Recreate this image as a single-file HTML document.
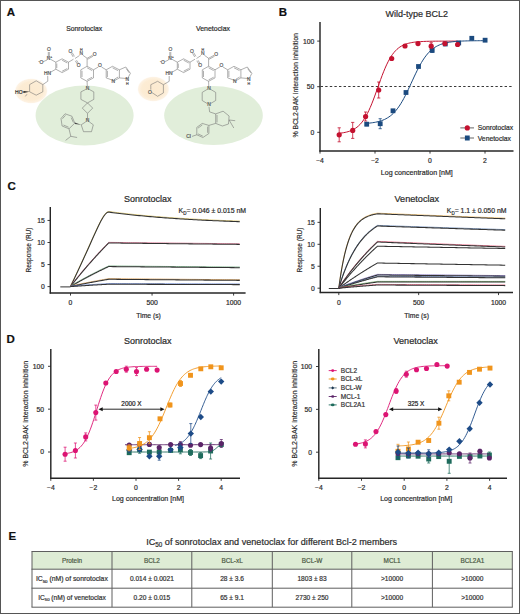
<!DOCTYPE html><html><head><meta charset="utf-8"><style>html,body{margin:0;padding:0;background:#fff;}svg{display:block;}</style></head><body>
<svg width="520" height="614" viewBox="0 0 520 614" font-family='"Liberation Sans", sans-serif'>
<rect x="0" y="0" width="520" height="614" fill="#fff"/>
<text x="6.8" y="15.8" font-size="11.5" text-anchor="start" fill="#111" font-weight="bold"  stroke="#111" stroke-width="0.2">A</text>
<text x="278.8" y="15.8" font-size="11.5" text-anchor="start" fill="#111" font-weight="bold"  stroke="#111" stroke-width="0.2">B</text>
<text x="7.5" y="189.8" font-size="11.5" text-anchor="start" fill="#111" font-weight="bold"  stroke="#111" stroke-width="0.2">C</text>
<text x="6.5" y="343" font-size="11.5" text-anchor="start" fill="#111" font-weight="bold"  stroke="#111" stroke-width="0.2">D</text>
<text x="8.5" y="539.8" font-size="11.5" text-anchor="start" fill="#111" font-weight="bold"  stroke="#111" stroke-width="0.2">E</text>
<defs><radialGradient id="og"><stop offset="0" stop-color="#fcead0"/><stop offset="0.7" stop-color="#fcecd4"/><stop offset="0.9" stop-color="#fdf2e3"/><stop offset="1" stop-color="#ffffff" stop-opacity="0"/></radialGradient><filter id="bl" x="-10%" y="-10%" width="120%" height="120%"><feGaussianBlur stdDeviation="0.7"/></filter></defs>
<ellipse cx="84.6" cy="115.5" rx="49" ry="30" fill="#e1eeda" filter="url(#bl)"/>
<ellipse cx="213.5" cy="115.5" rx="49.3" ry="29.4" fill="#e1eeda" filter="url(#bl)"/>
<ellipse cx="31.2" cy="91" rx="17" ry="13" fill="url(#og)"/>
<ellipse cx="153.4" cy="89" rx="16.5" ry="13" fill="url(#og)"/>
<text x="66.2" y="31" font-size="7" text-anchor="start" fill="#2c2c2c" font-weight="normal" textLength="36" lengthAdjust="spacingAndGlyphs"  stroke="#2c2c2c" stroke-width="0.2">Sonrotoclax</text>
<text x="196" y="31" font-size="7" text-anchor="start" fill="#2c2c2c" font-weight="normal" textLength="34" lengthAdjust="spacingAndGlyphs"  stroke="#2c2c2c" stroke-width="0.2">Venetoclax</text>
<polyline points="55.80,62.20 62.10,58.80 68.50,62.20 68.50,69.20 62.10,72.60 55.80,69.20 55.80,62.20" stroke="#6e6e6e" stroke-width="0.55" fill="none" stroke-linejoin="round" />
<line x1="56.80" y1="63.50" x2="56.80" y2="68.00" stroke="#6e6e6e" stroke-width="0.55" />
<line x1="62.10" y1="60.20" x2="67.30" y2="63.00" stroke="#6e6e6e" stroke-width="0.55" />
<line x1="62.10" y1="71.20" x2="67.30" y2="68.50" stroke="#6e6e6e" stroke-width="0.55" />
<line x1="55.80" y1="62.20" x2="50.50" y2="59.30" stroke="#6e6e6e" stroke-width="0.55" />
<line x1="48.30" y1="57.30" x2="48.30" y2="52.00" stroke="#6e6e6e" stroke-width="0.55" />
<line x1="49.30" y1="57.30" x2="49.30" y2="52.00" stroke="#6e6e6e" stroke-width="0.55" />
<line x1="47.00" y1="60.00" x2="43.00" y2="61.80" stroke="#6e6e6e" stroke-width="0.55" />
<line x1="55.80" y1="69.20" x2="50.30" y2="72.40" stroke="#6e6e6e" stroke-width="0.55" />
<line x1="68.50" y1="62.20" x2="73.50" y2="59.20" stroke="#6e6e6e" stroke-width="0.55" />
<line x1="75.00" y1="58.50" x2="79.50" y2="55.50" stroke="#6e6e6e" stroke-width="0.55" />
<line x1="73.20" y1="57.00" x2="71.00" y2="53.20" stroke="#6e6e6e" stroke-width="0.55" />
<line x1="74.40" y1="56.40" x2="72.20" y2="52.60" stroke="#6e6e6e" stroke-width="0.55" />
<line x1="75.30" y1="60.80" x2="77.40" y2="64.20" stroke="#6e6e6e" stroke-width="0.55" />
<line x1="76.50" y1="60.20" x2="78.60" y2="63.60" stroke="#6e6e6e" stroke-width="0.55" />
<line x1="82.80" y1="55.20" x2="87.10" y2="58.30" stroke="#6e6e6e" stroke-width="0.55" />
<line x1="87.10" y1="58.30" x2="92.60" y2="55.20" stroke="#6e6e6e" stroke-width="0.55" />
<line x1="87.60" y1="59.30" x2="93.10" y2="56.20" stroke="#6e6e6e" stroke-width="0.55" />
<line x1="87.10" y1="58.30" x2="87.10" y2="66.30" stroke="#6e6e6e" stroke-width="0.55" />
<polyline points="87.10,66.30 93.50,69.80 93.50,77.90 87.10,81.30 80.80,77.90 80.80,69.80 87.10,66.30" stroke="#6e6e6e" stroke-width="0.55" fill="none" stroke-linejoin="round" />
<line x1="82.00" y1="70.80" x2="82.00" y2="77.00" stroke="#6e6e6e" stroke-width="0.55" />
<line x1="87.10" y1="67.80" x2="92.20" y2="70.60" stroke="#6e6e6e" stroke-width="0.55" />
<line x1="87.10" y1="79.90" x2="92.20" y2="77.20" stroke="#6e6e6e" stroke-width="0.55" />
<line x1="93.50" y1="69.80" x2="98.30" y2="67.00" stroke="#6e6e6e" stroke-width="0.55" />
<line x1="101.50" y1="67.00" x2="106.20" y2="69.80" stroke="#6e6e6e" stroke-width="0.55" />
<polyline points="106.20,69.80 112.50,66.30 119.40,69.80 119.40,77.90 114.20,80.80 106.20,77.90 106.20,69.80" stroke="#6e6e6e" stroke-width="0.55" fill="none" stroke-linejoin="round" />
<line x1="107.40" y1="70.80" x2="107.40" y2="77.00" stroke="#6e6e6e" stroke-width="0.55" />
<line x1="112.50" y1="67.80" x2="118.00" y2="70.60" stroke="#6e6e6e" stroke-width="0.55" />
<line x1="118.20" y1="77.00" x2="114.50" y2="79.20" stroke="#6e6e6e" stroke-width="0.55" />
<polyline points="119.40,69.80 125.80,67.00 130.40,73.30 127.60,78.60 119.40,77.90" stroke="#6e6e6e" stroke-width="0.55" fill="none" stroke-linejoin="round" />
<line x1="126.20" y1="68.60" x2="129.20" y2="72.80" stroke="#6e6e6e" stroke-width="0.55" />
<line x1="87.10" y1="81.30" x2="87.30" y2="86.80" stroke="#6e6e6e" stroke-width="0.55" />
<text x="48.8" y="51.2" font-size="4.9" fill="#555" text-anchor="middle" stroke="#555" stroke-width="0.2">O</text>
<text x="48.6" y="60.3" font-size="4.9" fill="#555" text-anchor="middle" stroke="#555" stroke-width="0.2">N</text>
<text x="50.6" y="57.6" font-size="2.8" fill="#555" stroke="#555" stroke-width="0.2">+</text>
<text x="41.4" y="63.8" font-size="4.9" fill="#555" text-anchor="middle" stroke="#555" stroke-width="0.2">O</text>
<text x="38.6" y="62.0" font-size="3.2" fill="#555" stroke="#555" stroke-width="0.2">-</text>
<text x="47.5" y="75.3" font-size="4.9" fill="#555" text-anchor="middle" stroke="#555" stroke-width="0.2">HN</text>
<text x="70.3" y="52.6" font-size="4.9" fill="#555" text-anchor="middle" stroke="#555" stroke-width="0.2">O</text>
<text x="78.6" y="67.2" font-size="4.9" fill="#555" text-anchor="middle" stroke="#555" stroke-width="0.2">O</text>
<text x="81.3" y="55.2" font-size="4.9" fill="#555" text-anchor="middle" stroke="#555" stroke-width="0.2">N</text>
<text x="81.3" y="50.6" font-size="3.6" fill="#555" text-anchor="middle" stroke="#555" stroke-width="0.2">H</text>
<text x="94.6" y="55.8" font-size="4.9" fill="#555" text-anchor="middle" stroke="#555" stroke-width="0.2">O</text>
<text x="99.9" y="67.4" font-size="4.9" fill="#555" text-anchor="middle" stroke="#555" stroke-width="0.2">O</text>
<text x="113.3" y="82.8" font-size="4.9" fill="#555" text-anchor="middle" stroke="#555" stroke-width="0.2">N</text>
<text x="127.2" y="81.0" font-size="4.9" fill="#555" text-anchor="middle" stroke="#555" stroke-width="0.2">N</text>
<text x="127.2" y="85.0" font-size="3.6" fill="#555" text-anchor="middle" stroke="#555" stroke-width="0.2">H</text>
<text x="87.4" y="89.9" font-size="4.9" fill="#555" text-anchor="middle" stroke="#555" stroke-width="0.2">N</text>
<polyline points="177.30,62.20 183.60,58.80 190.00,62.20 190.00,69.20 183.60,72.60 177.30,69.20 177.30,62.20" stroke="#6e6e6e" stroke-width="0.55" fill="none" stroke-linejoin="round" />
<line x1="178.30" y1="63.50" x2="178.30" y2="68.00" stroke="#6e6e6e" stroke-width="0.55" />
<line x1="183.60" y1="60.20" x2="188.80" y2="63.00" stroke="#6e6e6e" stroke-width="0.55" />
<line x1="183.60" y1="71.20" x2="188.80" y2="68.50" stroke="#6e6e6e" stroke-width="0.55" />
<line x1="177.30" y1="62.20" x2="172.00" y2="59.30" stroke="#6e6e6e" stroke-width="0.55" />
<line x1="169.80" y1="57.30" x2="169.80" y2="52.00" stroke="#6e6e6e" stroke-width="0.55" />
<line x1="170.80" y1="57.30" x2="170.80" y2="52.00" stroke="#6e6e6e" stroke-width="0.55" />
<line x1="168.50" y1="60.00" x2="164.50" y2="61.80" stroke="#6e6e6e" stroke-width="0.55" />
<line x1="177.30" y1="69.20" x2="171.80" y2="72.40" stroke="#6e6e6e" stroke-width="0.55" />
<line x1="190.00" y1="62.20" x2="195.00" y2="59.20" stroke="#6e6e6e" stroke-width="0.55" />
<line x1="196.50" y1="58.50" x2="201.00" y2="55.50" stroke="#6e6e6e" stroke-width="0.55" />
<line x1="194.70" y1="57.00" x2="192.50" y2="53.20" stroke="#6e6e6e" stroke-width="0.55" />
<line x1="195.90" y1="56.40" x2="193.70" y2="52.60" stroke="#6e6e6e" stroke-width="0.55" />
<line x1="196.80" y1="60.80" x2="198.90" y2="64.20" stroke="#6e6e6e" stroke-width="0.55" />
<line x1="198.00" y1="60.20" x2="200.10" y2="63.60" stroke="#6e6e6e" stroke-width="0.55" />
<line x1="204.30" y1="55.20" x2="208.60" y2="58.30" stroke="#6e6e6e" stroke-width="0.55" />
<line x1="208.60" y1="58.30" x2="214.10" y2="55.20" stroke="#6e6e6e" stroke-width="0.55" />
<line x1="209.10" y1="59.30" x2="214.60" y2="56.20" stroke="#6e6e6e" stroke-width="0.55" />
<line x1="208.60" y1="58.30" x2="208.60" y2="66.30" stroke="#6e6e6e" stroke-width="0.55" />
<polyline points="208.60,66.30 215.00,69.80 215.00,77.90 208.60,81.30 202.30,77.90 202.30,69.80 208.60,66.30" stroke="#6e6e6e" stroke-width="0.55" fill="none" stroke-linejoin="round" />
<line x1="203.50" y1="70.80" x2="203.50" y2="77.00" stroke="#6e6e6e" stroke-width="0.55" />
<line x1="208.60" y1="67.80" x2="213.70" y2="70.60" stroke="#6e6e6e" stroke-width="0.55" />
<line x1="208.60" y1="79.90" x2="213.70" y2="77.20" stroke="#6e6e6e" stroke-width="0.55" />
<line x1="215.00" y1="69.80" x2="219.80" y2="67.00" stroke="#6e6e6e" stroke-width="0.55" />
<line x1="223.00" y1="67.00" x2="227.70" y2="69.80" stroke="#6e6e6e" stroke-width="0.55" />
<polyline points="227.70,69.80 234.00,66.30 240.90,69.80 240.90,77.90 235.70,80.80 227.70,77.90 227.70,69.80" stroke="#6e6e6e" stroke-width="0.55" fill="none" stroke-linejoin="round" />
<line x1="228.90" y1="70.80" x2="228.90" y2="77.00" stroke="#6e6e6e" stroke-width="0.55" />
<line x1="234.00" y1="67.80" x2="239.50" y2="70.60" stroke="#6e6e6e" stroke-width="0.55" />
<line x1="239.70" y1="77.00" x2="236.00" y2="79.20" stroke="#6e6e6e" stroke-width="0.55" />
<polyline points="240.90,69.80 247.30,67.00 251.90,73.30 249.10,78.60 240.90,77.90" stroke="#6e6e6e" stroke-width="0.55" fill="none" stroke-linejoin="round" />
<line x1="247.70" y1="68.60" x2="250.70" y2="72.80" stroke="#6e6e6e" stroke-width="0.55" />
<line x1="208.60" y1="81.30" x2="208.80" y2="86.80" stroke="#6e6e6e" stroke-width="0.55" />
<text x="170.3" y="51.2" font-size="4.9" fill="#555" text-anchor="middle" stroke="#555" stroke-width="0.2">O</text>
<text x="170.1" y="60.3" font-size="4.9" fill="#555" text-anchor="middle" stroke="#555" stroke-width="0.2">N</text>
<text x="172.1" y="57.6" font-size="2.8" fill="#555" stroke="#555" stroke-width="0.2">+</text>
<text x="162.9" y="63.8" font-size="4.9" fill="#555" text-anchor="middle" stroke="#555" stroke-width="0.2">O</text>
<text x="160.1" y="62.0" font-size="3.2" fill="#555" stroke="#555" stroke-width="0.2">-</text>
<text x="169.0" y="75.3" font-size="4.9" fill="#555" text-anchor="middle" stroke="#555" stroke-width="0.2">HN</text>
<text x="191.8" y="52.6" font-size="4.9" fill="#555" text-anchor="middle" stroke="#555" stroke-width="0.2">O</text>
<text x="200.1" y="67.2" font-size="4.9" fill="#555" text-anchor="middle" stroke="#555" stroke-width="0.2">O</text>
<text x="202.8" y="55.2" font-size="4.9" fill="#555" text-anchor="middle" stroke="#555" stroke-width="0.2">N</text>
<text x="202.8" y="50.6" font-size="3.6" fill="#555" text-anchor="middle" stroke="#555" stroke-width="0.2">H</text>
<text x="216.1" y="55.8" font-size="4.9" fill="#555" text-anchor="middle" stroke="#555" stroke-width="0.2">O</text>
<text x="221.4" y="67.4" font-size="4.9" fill="#555" text-anchor="middle" stroke="#555" stroke-width="0.2">O</text>
<text x="234.8" y="82.8" font-size="4.9" fill="#555" text-anchor="middle" stroke="#555" stroke-width="0.2">N</text>
<text x="248.7" y="81.0" font-size="4.9" fill="#555" text-anchor="middle" stroke="#555" stroke-width="0.2">N</text>
<text x="248.7" y="85.0" font-size="3.6" fill="#555" text-anchor="middle" stroke="#555" stroke-width="0.2">H</text>
<text x="208.9" y="89.9" font-size="4.9" fill="#555" text-anchor="middle" stroke="#555" stroke-width="0.2">N</text>
<polyline points="47.70,75.80 47.80,81.20 42.80,84.60" stroke="#6e6e6e" stroke-width="0.55" fill="none" stroke-linejoin="round" />
<polyline points="36.20,80.80 42.80,84.60 42.80,91.80 36.20,95.20 29.60,91.80 29.60,84.60 36.20,80.80" stroke="#6e6e6e" stroke-width="0.55" fill="none" stroke-linejoin="round" />
<polygon points="29.6,91.8 23.4,91.0 23.4,93.0" fill="#222"/>
<text x="18.8" y="93.9" font-size="5" fill="#333" text-anchor="middle" stroke="#333" stroke-width="0.2">HO</text>
<line x1="27.00" y1="94.20" x2="25.30" y2="96.40" stroke="#6e6e6e" stroke-width="0.55" />
<polyline points="89.20,89.40 93.80,91.90 93.80,99.40 87.50,102.90 80.90,99.40 80.90,91.90 85.80,89.40" stroke="#6e6e6e" stroke-width="0.55" fill="none" stroke-linejoin="round" />
<polyline points="87.50,102.90 92.70,108.10 87.50,113.30 82.30,108.10 87.50,102.90" stroke="#6e6e6e" stroke-width="0.55" fill="none" stroke-linejoin="round" />
<line x1="87.50" y1="113.30" x2="87.50" y2="119.20" stroke="#6e6e6e" stroke-width="0.55" />
<text x="87.6" y="122.3" font-size="4.9" fill="#555" text-anchor="middle" stroke="#555" stroke-width="0.2">N</text>
<polyline points="89.20,121.80 93.30,124.80 91.50,131.70 83.50,131.70 81.20,124.80 85.80,121.80" stroke="#6e6e6e" stroke-width="0.55" fill="none" stroke-linejoin="round" />
<polygon points="81.2,124.8 74.8,122.5 74.8,124.0" fill="#444"/>
<polyline points="74.80,123.10 71.90,116.20 65.00,113.80 61.00,118.50 62.10,126.00 69.00,128.80 74.80,123.10" stroke="#6e6e6e" stroke-width="0.55" fill="none" stroke-linejoin="round" />
<line x1="65.50" y1="115.30" x2="62.40" y2="118.80" stroke="#6e6e6e" stroke-width="0.55" />
<line x1="63.40" y1="125.00" x2="68.60" y2="127.20" stroke="#6e6e6e" stroke-width="0.55" />
<line x1="71.20" y1="117.60" x2="73.40" y2="122.60" stroke="#6e6e6e" stroke-width="0.55" />
<polyline points="69.00,128.80 70.80,136.30 65.60,140.40" stroke="#6e6e6e" stroke-width="0.55" fill="none" stroke-linejoin="round" />
<line x1="70.80" y1="136.30" x2="77.10" y2="137.50" stroke="#6e6e6e" stroke-width="0.55" />
<polyline points="169.20,76.00 169.20,81.30 163.40,84.70" stroke="#6e6e6e" stroke-width="0.55" fill="none" stroke-linejoin="round" />
<polyline points="151.30,92.20 157.60,96.30 163.40,92.90 163.40,84.70 157.60,81.30 150.80,84.70 150.80,89.60" stroke="#6e6e6e" stroke-width="0.55" fill="none" stroke-linejoin="round" />
<text x="149.8" y="94.3" font-size="4.9" fill="#555" text-anchor="middle" stroke="#555" stroke-width="0.2">O</text>
<polyline points="210.50,89.30 215.70,92.40 215.70,100.50 210.50,103.60" stroke="#6e6e6e" stroke-width="0.55" fill="none" stroke-linejoin="round" />
<polyline points="207.30,89.30 202.20,92.40 202.20,100.50 207.30,103.60" stroke="#6e6e6e" stroke-width="0.55" fill="none" stroke-linejoin="round" />
<text x="208.9" y="106.1" font-size="4.9" fill="#555" text-anchor="middle" stroke="#555" stroke-width="0.2">N</text>
<polyline points="209.00,106.80 209.60,111.90 215.70,113.90" stroke="#6e6e6e" stroke-width="0.55" fill="none" stroke-linejoin="round" />
<polyline points="215.70,113.90 223.10,111.20 229.10,116.00 228.50,124.00 222.40,126.00 215.70,123.40 215.70,113.90" stroke="#6e6e6e" stroke-width="0.55" fill="none" stroke-linejoin="round" />
<line x1="217.00" y1="115.00" x2="217.00" y2="122.40" stroke="#6e6e6e" stroke-width="0.55" />
<line x1="229.10" y1="120.00" x2="235.20" y2="120.70" stroke="#6e6e6e" stroke-width="0.55" />
<line x1="229.10" y1="120.00" x2="233.80" y2="128.00" stroke="#6e6e6e" stroke-width="0.55" />
<line x1="215.70" y1="123.40" x2="208.90" y2="125.40" stroke="#6e6e6e" stroke-width="0.55" />
<polyline points="208.90,125.40 202.20,123.40 196.80,127.40 196.80,134.80 202.90,137.50 208.90,133.50 208.90,125.40" stroke="#6e6e6e" stroke-width="0.55" fill="none" stroke-linejoin="round" />
<line x1="202.40" y1="124.90" x2="197.90" y2="128.20" stroke="#6e6e6e" stroke-width="0.55" />
<line x1="198.00" y1="133.90" x2="202.80" y2="136.10" stroke="#6e6e6e" stroke-width="0.55" />
<line x1="207.60" y1="126.60" x2="207.60" y2="132.80" stroke="#6e6e6e" stroke-width="0.55" />
<line x1="196.80" y1="134.80" x2="192.00" y2="136.40" stroke="#6e6e6e" stroke-width="0.55" />
<text x="188.6" y="138.2" font-size="4.9" fill="#555" text-anchor="middle" stroke="#555" stroke-width="0.2">Cl</text>
<text x="385.4" y="16.9" font-size="9.8" text-anchor="start" fill="#2c2c2c" font-weight="normal" textLength="62.5" lengthAdjust="spacingAndGlyphs" stroke-width="0.22"  stroke="#2c2c2c">Wild-type BCL2</text>
<line x1="320.00" y1="22.00" x2="320.00" y2="151.60" stroke="#262626" stroke-width="1.45" />
<line x1="319.40" y1="151.00" x2="513.50" y2="151.00" stroke="#262626" stroke-width="1.45" />
<line x1="317.20" y1="41.10" x2="320.00" y2="41.10" stroke="#262626" stroke-width="0.9" />
<text x="314.3" y="43.50000000000001" font-size="6.8" text-anchor="end" fill="#2c2c2c" font-weight="normal"  stroke="#2c2c2c" stroke-width="0.2">100</text>
<line x1="317.20" y1="86.70" x2="320.00" y2="86.70" stroke="#262626" stroke-width="0.9" />
<text x="314.3" y="89.10000000000002" font-size="6.8" text-anchor="end" fill="#2c2c2c" font-weight="normal"  stroke="#2c2c2c" stroke-width="0.2">50</text>
<line x1="317.20" y1="132.30" x2="320.00" y2="132.30" stroke="#262626" stroke-width="0.9" />
<text x="314.3" y="134.70000000000002" font-size="6.8" text-anchor="end" fill="#2c2c2c" font-weight="normal"  stroke="#2c2c2c" stroke-width="0.2">0</text>
<line x1="320.00" y1="151.00" x2="320.00" y2="153.60" stroke="#262626" stroke-width="0.9" />
<text x="320.0" y="162.8" font-size="6.8" text-anchor="middle" fill="#2c2c2c" font-weight="normal"  stroke="#2c2c2c" stroke-width="0.2">−4</text>
<line x1="375.00" y1="151.00" x2="375.00" y2="153.60" stroke="#262626" stroke-width="0.9" />
<text x="375.0" y="162.8" font-size="6.8" text-anchor="middle" fill="#2c2c2c" font-weight="normal"  stroke="#2c2c2c" stroke-width="0.2">−2</text>
<line x1="430.00" y1="151.00" x2="430.00" y2="153.60" stroke="#262626" stroke-width="0.9" />
<text x="430.0" y="162.8" font-size="6.8" text-anchor="middle" fill="#2c2c2c" font-weight="normal"  stroke="#2c2c2c" stroke-width="0.2">0</text>
<line x1="485.00" y1="151.00" x2="485.00" y2="153.60" stroke="#262626" stroke-width="0.9" />
<text x="485.0" y="162.8" font-size="6.8" text-anchor="middle" fill="#2c2c2c" font-weight="normal"  stroke="#2c2c2c" stroke-width="0.2">2</text>
<text x="380.8" y="174.6" font-size="7.3" text-anchor="start" fill="#2c2c2c" font-weight="normal" textLength="72" lengthAdjust="spacingAndGlyphs"  stroke="#2c2c2c" stroke-width="0.2">Log concentration [nM]</text>
<text transform="translate(297.9,85.3) rotate(-90)" font-size="7.8" stroke-width="0.18" text-anchor="middle" fill="#2c2c2c" textLength="104.5" lengthAdjust="spacingAndGlyphs" stroke="#2c2c2c">% BCL2-BAK interaction inhibition</text>
<line x1="320.60" y1="86.50" x2="513.50" y2="86.50" stroke="#222" stroke-width="0.9" stroke-dasharray="2.4,2.2"/>
<polyline points="339.20,133.27 340.68,133.10 342.16,132.90 343.64,132.67 345.12,132.39 346.60,132.05 348.08,131.66 349.56,131.18 351.04,130.63 352.52,129.97 354.00,129.20 355.48,128.29 356.96,127.22 358.44,125.98 359.92,124.55 361.40,122.89 362.88,120.99 364.36,118.83 365.84,116.39 367.32,113.67 368.80,110.66 370.28,107.37 371.76,103.82 373.24,100.04 374.72,96.07 376.20,91.98 377.68,87.81 379.16,83.64 380.64,79.53 382.12,75.55 383.60,71.76 385.08,68.18 386.56,64.87 388.04,61.83 389.52,59.08 391.00,56.61 392.48,54.43 393.96,52.50 395.44,50.83 396.92,49.37 398.40,48.11 399.88,47.03 401.36,46.11 402.84,45.32 404.32,44.65 405.80,44.09 407.28,43.61 408.76,43.21 410.24,42.87 411.72,42.58 413.20,42.34 414.68,42.14 416.16,41.97 417.64,41.83 419.12,41.71 420.60,41.61 422.08,41.53 423.56,41.46 425.04,41.40 426.52,41.35 428.00,41.31 429.48,41.27 430.96,41.25 432.44,41.22 433.92,41.20 435.40,41.18 436.88,41.17 438.36,41.16 439.84,41.15 441.32,41.14 442.80,41.13 444.28,41.13 445.76,41.12 447.24,41.12 448.72,41.12 450.20,41.11 451.68,41.11 453.16,41.11 454.64,41.11 456.12,41.11 457.60,41.11" stroke="#c4112f" stroke-width="1.0" fill="none" stroke-linejoin="round" />
<polyline points="366.70,123.34 368.18,123.21 369.66,123.07 371.14,122.90 372.62,122.70 374.10,122.47 375.58,122.21 377.06,121.90 378.54,121.54 380.02,121.13 381.50,120.66 382.98,120.11 384.46,119.48 385.94,118.75 387.42,117.92 388.90,116.98 390.38,115.90 391.86,114.69 393.34,113.32 394.82,111.78 396.30,110.06 397.78,108.16 399.26,106.06 400.74,103.78 402.22,101.31 403.70,98.65 405.18,95.83 406.66,92.87 408.14,89.79 409.62,86.62 411.10,83.40 412.58,80.18 414.06,76.97 415.54,73.83 417.02,70.79 418.50,67.88 419.98,65.11 421.46,62.52 422.94,60.12 424.42,57.90 425.90,55.88 427.38,54.04 428.86,52.39 430.34,50.91 431.82,49.60 433.30,48.43 434.78,47.40 436.26,46.50 437.74,45.71 439.22,45.02 440.70,44.42 442.18,43.90 443.66,43.45 445.14,43.06 446.62,42.72 448.10,42.43 449.58,42.18 451.06,41.96 452.54,41.77 454.02,41.61 455.50,41.48 456.98,41.36 458.46,41.26 459.94,41.17 461.42,41.09 462.90,41.03 464.38,40.97 465.86,40.93 467.34,40.89 468.82,40.85 470.30,40.82 471.78,40.80 473.26,40.77 474.74,40.76 476.22,40.74 477.70,40.73 479.18,40.71 480.66,40.70 482.14,40.70 483.62,40.69 485.10,40.68" stroke="#1b4a7f" stroke-width="1.0" fill="none" stroke-linejoin="round" />
<line x1="339.20" y1="127.80" x2="339.20" y2="141.80" stroke="#c4112f" stroke-width="0.8" />
<line x1="337.60" y1="127.80" x2="340.80" y2="127.80" stroke="#c4112f" stroke-width="0.8" />
<line x1="337.60" y1="141.80" x2="340.80" y2="141.80" stroke="#c4112f" stroke-width="0.8" />
<line x1="352.70" y1="122.40" x2="352.70" y2="138.40" stroke="#c4112f" stroke-width="0.8" />
<line x1="351.10" y1="122.40" x2="354.30" y2="122.40" stroke="#c4112f" stroke-width="0.8" />
<line x1="351.10" y1="138.40" x2="354.30" y2="138.40" stroke="#c4112f" stroke-width="0.8" />
<line x1="365.60" y1="112.00" x2="365.60" y2="121.00" stroke="#c4112f" stroke-width="0.8" />
<line x1="364.00" y1="112.00" x2="367.20" y2="112.00" stroke="#c4112f" stroke-width="0.8" />
<line x1="364.00" y1="121.00" x2="367.20" y2="121.00" stroke="#c4112f" stroke-width="0.8" />
<line x1="378.70" y1="82.00" x2="378.70" y2="98.00" stroke="#c4112f" stroke-width="0.8" />
<line x1="377.10" y1="82.00" x2="380.30" y2="82.00" stroke="#c4112f" stroke-width="0.8" />
<line x1="377.10" y1="98.00" x2="380.30" y2="98.00" stroke="#c4112f" stroke-width="0.8" />
<line x1="405.00" y1="44.50" x2="405.00" y2="47.50" stroke="#c4112f" stroke-width="0.8" />
<line x1="403.40" y1="44.50" x2="406.60" y2="44.50" stroke="#c4112f" stroke-width="0.8" />
<line x1="403.40" y1="47.50" x2="406.60" y2="47.50" stroke="#c4112f" stroke-width="0.8" />
<line x1="431.20" y1="42.70" x2="431.20" y2="49.70" stroke="#c4112f" stroke-width="0.8" />
<line x1="429.60" y1="42.70" x2="432.80" y2="42.70" stroke="#c4112f" stroke-width="0.8" />
<line x1="429.60" y1="49.70" x2="432.80" y2="49.70" stroke="#c4112f" stroke-width="0.8" />
<line x1="366.70" y1="122.70" x2="366.70" y2="125.70" stroke="#1b4a7f" stroke-width="0.8" />
<line x1="365.10" y1="122.70" x2="368.30" y2="122.70" stroke="#1b4a7f" stroke-width="0.8" />
<line x1="365.10" y1="125.70" x2="368.30" y2="125.70" stroke="#1b4a7f" stroke-width="0.8" />
<line x1="380.20" y1="118.70" x2="380.20" y2="128.70" stroke="#1b4a7f" stroke-width="0.8" />
<line x1="378.60" y1="118.70" x2="381.80" y2="118.70" stroke="#1b4a7f" stroke-width="0.8" />
<line x1="378.60" y1="128.70" x2="381.80" y2="128.70" stroke="#1b4a7f" stroke-width="0.8" />
<line x1="432.20" y1="48.40" x2="432.20" y2="52.40" stroke="#1b4a7f" stroke-width="0.8" />
<line x1="430.60" y1="48.40" x2="433.80" y2="48.40" stroke="#1b4a7f" stroke-width="0.8" />
<line x1="430.60" y1="52.40" x2="433.80" y2="52.40" stroke="#1b4a7f" stroke-width="0.8" />
<rect x="364.30" y="121.80" width="4.8" height="4.8" fill="#1b4a7f"/>
<rect x="377.80" y="121.30" width="4.8" height="4.8" fill="#1b4a7f"/>
<rect x="390.60" y="108.40" width="4.8" height="4.8" fill="#1b4a7f"/>
<rect x="403.60" y="90.10" width="4.8" height="4.8" fill="#1b4a7f"/>
<rect x="416.10" y="64.10" width="4.8" height="4.8" fill="#1b4a7f"/>
<rect x="429.80" y="48.00" width="4.8" height="4.8" fill="#1b4a7f"/>
<rect x="442.90" y="41.60" width="4.8" height="4.8" fill="#1b4a7f"/>
<rect x="456.30" y="40.60" width="4.8" height="4.8" fill="#1b4a7f"/>
<rect x="469.40" y="35.90" width="4.8" height="4.8" fill="#1b4a7f"/>
<rect x="482.70" y="37.80" width="4.8" height="4.8" fill="#1b4a7f"/>
<circle cx="339.2" cy="134.8" r="2.6" fill="#c4112f"/>
<circle cx="352.7" cy="130.4" r="2.6" fill="#c4112f"/>
<circle cx="365.6" cy="116.5" r="2.6" fill="#c4112f"/>
<circle cx="378.7" cy="90" r="2.6" fill="#c4112f"/>
<circle cx="391.7" cy="58.5" r="2.6" fill="#c4112f"/>
<circle cx="405" cy="46" r="2.6" fill="#c4112f"/>
<circle cx="418" cy="43.6" r="2.6" fill="#c4112f"/>
<circle cx="431.2" cy="46.2" r="2.6" fill="#c4112f"/>
<circle cx="444.9" cy="43.6" r="2.6" fill="#c4112f"/>
<circle cx="457.6" cy="44.5" r="2.6" fill="#c4112f"/>
<line x1="460.30" y1="127.90" x2="474.00" y2="127.90" stroke="#555" stroke-width="0.9" />
<circle cx="467.3" cy="127.9" r="2.6" fill="#c4112f"/>
<line x1="460.30" y1="138.00" x2="474.00" y2="138.00" stroke="#555" stroke-width="0.9" />
<rect x="464.9" y="135.5" width="4.8" height="5" fill="#1b4a7f"/>
<text x="477.7" y="130.4" font-size="6.8" text-anchor="start" fill="#2c2c2c" font-weight="normal" textLength="35.5" lengthAdjust="spacingAndGlyphs"  stroke="#2c2c2c" stroke-width="0.2">Sonrotoclax</text>
<text x="477.7" y="140.5" font-size="6.8" text-anchor="start" fill="#2c2c2c" font-weight="normal" textLength="33.3" lengthAdjust="spacingAndGlyphs"  stroke="#2c2c2c" stroke-width="0.2">Venetoclax</text>
<text x="124.1" y="202.1" font-size="9" text-anchor="start" fill="#2c2c2c" font-weight="normal" textLength="47.5" lengthAdjust="spacingAndGlyphs" stroke-width="0.22"  stroke="#2c2c2c">Sonrotoclax</text>
<line x1="50.30" y1="207.00" x2="50.30" y2="293.60" stroke="#262626" stroke-width="1.45" />
<line x1="49.70" y1="293.00" x2="245.60" y2="293.00" stroke="#262626" stroke-width="1.45" />
<line x1="47.50" y1="220.45" x2="50.30" y2="220.45" stroke="#262626" stroke-width="0.9" />
<text x="44.8" y="222.85000000000002" font-size="6.8" text-anchor="end" fill="#2c2c2c" font-weight="normal"  stroke="#2c2c2c" stroke-width="0.2">15</text>
<line x1="47.50" y1="242.50" x2="50.30" y2="242.50" stroke="#262626" stroke-width="0.9" />
<text x="44.8" y="244.90000000000003" font-size="6.8" text-anchor="end" fill="#2c2c2c" font-weight="normal"  stroke="#2c2c2c" stroke-width="0.2">10</text>
<line x1="47.50" y1="264.55" x2="50.30" y2="264.55" stroke="#262626" stroke-width="0.9" />
<text x="44.8" y="266.95" font-size="6.8" text-anchor="end" fill="#2c2c2c" font-weight="normal"  stroke="#2c2c2c" stroke-width="0.2">5</text>
<line x1="47.50" y1="286.60" x2="50.30" y2="286.60" stroke="#262626" stroke-width="0.9" />
<text x="44.8" y="289.0" font-size="6.8" text-anchor="end" fill="#2c2c2c" font-weight="normal"  stroke="#2c2c2c" stroke-width="0.2">0</text>
<line x1="70.50" y1="293.00" x2="70.50" y2="295.60" stroke="#262626" stroke-width="0.9" />
<text x="70.5" y="305" font-size="6.8" text-anchor="middle" fill="#2c2c2c" font-weight="normal"  stroke="#2c2c2c" stroke-width="0.2">0</text>
<line x1="152.05" y1="293.00" x2="152.05" y2="295.60" stroke="#262626" stroke-width="0.9" />
<text x="152.05" y="305" font-size="6.8" text-anchor="middle" fill="#2c2c2c" font-weight="normal"  stroke="#2c2c2c" stroke-width="0.2">500</text>
<line x1="233.60" y1="293.00" x2="233.60" y2="295.60" stroke="#262626" stroke-width="0.9" />
<text x="233.6" y="305" font-size="6.8" text-anchor="middle" fill="#2c2c2c" font-weight="normal"  stroke="#2c2c2c" stroke-width="0.2">1000</text>
<text x="136.25" y="317.6" font-size="7.3" text-anchor="start" fill="#2c2c2c" font-weight="normal" textLength="24.6" lengthAdjust="spacingAndGlyphs"  stroke="#2c2c2c" stroke-width="0.2">Time (s)</text>
<text transform="translate(31,250) rotate(-90)" font-size="7.9" stroke-width="0.18" text-anchor="middle" fill="#2c2c2c" textLength="45" lengthAdjust="spacingAndGlyphs" stroke="#2c2c2c">Response (RU)</text>
<text x="178.6" y="213.1" font-size="6.9" fill="#2c2c2c" stroke="#2c2c2c" stroke-width="0.2">K<tspan font-size="4.5" dy="1.4">D</tspan><tspan dy="-1.4">= 0.046 ± 0.015 nM</tspan></text>
<line x1="60.30" y1="286.90" x2="70.50" y2="286.90" stroke="#333" stroke-width="1.0" />
<path d="M70.50,286.60 C94.16,237.86 102.17,212.37 108.67,212.07 L110.85,212.36 L113.04,212.65 L115.22,212.93 L117.41,213.21 L119.59,213.47 L121.78,213.73 L123.96,213.99 L126.15,214.24 L128.34,214.48 L130.52,214.72 L132.71,214.95 L134.89,215.18 L137.08,215.40 L139.26,215.62 L141.45,215.83 L143.63,216.04 L145.82,216.24 L148.01,216.44 L150.19,216.63 L152.38,216.82 L154.56,217.01 L156.75,217.19 L158.93,217.36 L161.12,217.53 L163.30,217.70 L165.49,217.87 L167.67,218.03 L169.86,218.18 L172.05,218.34 L174.23,218.49 L176.42,218.63 L178.60,218.78 L180.79,218.92 L182.97,219.05 L185.16,219.19 L187.34,219.32 L189.53,219.44 L191.72,219.57 L193.90,219.69 L196.09,219.81 L198.27,219.92 L200.46,220.04 L202.64,220.15 L204.83,220.26 L207.01,220.36 L209.20,220.47 L211.39,220.57 L213.57,220.66 L215.76,220.76 L217.94,220.85 L220.13,220.95 L222.31,221.04 L224.50,221.12 L226.68,221.21 L228.87,221.29 L231.06,221.38 L233.24,221.46 L235.43,221.53 L237.61,221.61 L239.80,221.68" transform="translate(0,-0.6)" stroke="#d8c060" stroke-width="0.8" fill="none"/>
<path d="M70.50,286.60 C94.16,237.86 102.17,212.37 108.67,212.07 L110.85,212.36 L113.04,212.65 L115.22,212.93 L117.41,213.21 L119.59,213.47 L121.78,213.73 L123.96,213.99 L126.15,214.24 L128.34,214.48 L130.52,214.72 L132.71,214.95 L134.89,215.18 L137.08,215.40 L139.26,215.62 L141.45,215.83 L143.63,216.04 L145.82,216.24 L148.01,216.44 L150.19,216.63 L152.38,216.82 L154.56,217.01 L156.75,217.19 L158.93,217.36 L161.12,217.53 L163.30,217.70 L165.49,217.87 L167.67,218.03 L169.86,218.18 L172.05,218.34 L174.23,218.49 L176.42,218.63 L178.60,218.78 L180.79,218.92 L182.97,219.05 L185.16,219.19 L187.34,219.32 L189.53,219.44 L191.72,219.57 L193.90,219.69 L196.09,219.81 L198.27,219.92 L200.46,220.04 L202.64,220.15 L204.83,220.26 L207.01,220.36 L209.20,220.47 L211.39,220.57 L213.57,220.66 L215.76,220.76 L217.94,220.85 L220.13,220.95 L222.31,221.04 L224.50,221.12 L226.68,221.21 L228.87,221.29 L231.06,221.38 L233.24,221.46 L235.43,221.53 L237.61,221.61 L239.80,221.68" stroke="#333" stroke-width="1.05" fill="none" stroke-linejoin="round"/>
<polyline points="70.50,286.00 71.14,285.19 71.77,284.38 72.41,283.57 73.04,282.76 73.68,281.96 74.32,281.17 74.95,280.37 75.59,279.58 76.22,278.79 76.86,278.00 77.50,277.22 78.13,276.44 78.77,275.67 79.41,274.89 80.04,274.12 80.68,273.35 81.31,272.59 81.95,271.83 82.59,271.07 83.22,270.31 83.86,269.56 84.49,268.81 85.13,268.07 85.77,267.32 86.40,266.58 87.04,265.84 87.67,265.11 88.31,264.37 88.95,263.64 89.58,262.92 90.22,262.19 90.85,261.47 91.49,260.76 92.13,260.04 92.76,259.33 93.40,258.62 94.04,257.91 94.67,257.21 95.31,256.50 95.94,255.81 96.58,255.11 97.22,254.42 97.85,253.72 98.49,253.04 99.12,252.35 99.76,251.67 100.40,250.99 101.03,250.31 101.67,249.64 102.30,248.96 102.94,248.29 103.58,247.63 104.21,246.96 104.85,246.30 105.48,245.64 106.12,244.99 106.76,244.33 107.39,243.68 108.03,243.03 108.67,242.39 110.85,242.41 113.04,242.43 115.22,242.46 117.41,242.48 119.59,242.50 121.78,242.53 123.96,242.55 126.15,242.58 128.34,242.60 130.52,242.62 132.71,242.65 134.89,242.67 137.08,242.69 139.26,242.72 141.45,242.74 143.63,242.77 145.82,242.79 148.01,242.81 150.19,242.84 152.38,242.86 154.56,242.88 156.75,242.91 158.93,242.93 161.12,242.96 163.30,242.98 165.49,243.00 167.67,243.03 169.86,243.05 172.05,243.07 174.23,243.10 176.42,243.12 178.60,243.14 180.79,243.17 182.97,243.19 185.16,243.21 187.34,243.24 189.53,243.26 191.72,243.28 193.90,243.31 196.09,243.33 198.27,243.35 200.46,243.38 202.64,243.40 204.83,243.42 207.01,243.45 209.20,243.47 211.39,243.49 213.57,243.52 215.76,243.54 217.94,243.56 220.13,243.59 222.31,243.61 224.50,243.63 226.68,243.66 228.87,243.68 231.06,243.70 233.24,243.73 235.43,243.75 237.61,243.77 239.80,243.80" stroke="#d06080" stroke-width="0.8" fill="none" stroke-linejoin="round" />
<polyline points="70.50,286.60 71.14,285.79 71.77,284.98 72.41,284.17 73.04,283.36 73.68,282.56 74.32,281.77 74.95,280.97 75.59,280.18 76.22,279.39 76.86,278.60 77.50,277.82 78.13,277.04 78.77,276.27 79.41,275.49 80.04,274.72 80.68,273.95 81.31,273.19 81.95,272.43 82.59,271.67 83.22,270.91 83.86,270.16 84.49,269.41 85.13,268.67 85.77,267.92 86.40,267.18 87.04,266.44 87.67,265.71 88.31,264.97 88.95,264.24 89.58,263.52 90.22,262.79 90.85,262.07 91.49,261.36 92.13,260.64 92.76,259.93 93.40,259.22 94.04,258.51 94.67,257.81 95.31,257.10 95.94,256.41 96.58,255.71 97.22,255.02 97.85,254.32 98.49,253.64 99.12,252.95 99.76,252.27 100.40,251.59 101.03,250.91 101.67,250.24 102.30,249.56 102.94,248.89 103.58,248.23 104.21,247.56 104.85,246.90 105.48,246.24 106.12,245.59 106.76,244.93 107.39,244.28 108.03,243.63 108.67,242.99 110.85,243.01 113.04,243.03 115.22,243.06 117.41,243.08 119.59,243.10 121.78,243.13 123.96,243.15 126.15,243.18 128.34,243.20 130.52,243.22 132.71,243.25 134.89,243.27 137.08,243.29 139.26,243.32 141.45,243.34 143.63,243.37 145.82,243.39 148.01,243.41 150.19,243.44 152.38,243.46 154.56,243.48 156.75,243.51 158.93,243.53 161.12,243.56 163.30,243.58 165.49,243.60 167.67,243.63 169.86,243.65 172.05,243.67 174.23,243.70 176.42,243.72 178.60,243.74 180.79,243.77 182.97,243.79 185.16,243.81 187.34,243.84 189.53,243.86 191.72,243.88 193.90,243.91 196.09,243.93 198.27,243.95 200.46,243.98 202.64,244.00 204.83,244.02 207.01,244.05 209.20,244.07 211.39,244.09 213.57,244.12 215.76,244.14 217.94,244.16 220.13,244.19 222.31,244.21 224.50,244.23 226.68,244.26 228.87,244.28 231.06,244.30 233.24,244.33 235.43,244.35 237.61,244.37 239.80,244.40" stroke="#333" stroke-width="1.05" fill="none" stroke-linejoin="round" />
<polyline points="70.50,286.00 71.14,285.63 71.77,285.25 72.41,284.88 73.04,284.51 73.68,284.15 74.32,283.78 74.95,283.42 75.59,283.05 76.22,282.69 76.86,282.33 77.50,281.97 78.13,281.61 78.77,281.26 79.41,280.90 80.04,280.55 80.68,280.19 81.31,279.84 81.95,279.49 82.59,279.15 83.22,278.80 83.86,278.45 84.49,278.11 85.13,277.77 85.77,277.43 86.40,277.09 87.04,276.75 87.67,276.41 88.31,276.07 88.95,275.74 89.58,275.40 90.22,275.07 90.85,274.74 91.49,274.41 92.13,274.08 92.76,273.76 93.40,273.43 94.04,273.11 94.67,272.78 95.31,272.46 95.94,272.14 96.58,271.82 97.22,271.50 97.85,271.18 98.49,270.87 99.12,270.55 99.76,270.24 100.40,269.93 101.03,269.62 101.67,269.31 102.30,269.00 102.94,268.69 103.58,268.39 104.21,268.08 104.85,267.78 105.48,267.47 106.12,267.17 106.76,266.87 107.39,266.57 108.03,266.28 108.67,265.98 110.85,266.00 113.04,266.02 115.22,266.04 117.41,266.05 119.59,266.07 121.78,266.09 123.96,266.11 126.15,266.13 128.34,266.15 130.52,266.17 132.71,266.19 134.89,266.20 137.08,266.22 139.26,266.24 141.45,266.26 143.63,266.28 145.82,266.30 148.01,266.32 150.19,266.33 152.38,266.35 154.56,266.37 156.75,266.39 158.93,266.41 161.12,266.43 163.30,266.45 165.49,266.46 167.67,266.48 169.86,266.50 172.05,266.52 174.23,266.54 176.42,266.56 178.60,266.57 180.79,266.59 182.97,266.61 185.16,266.63 187.34,266.65 189.53,266.67 191.72,266.68 193.90,266.70 196.09,266.72 198.27,266.74 200.46,266.76 202.64,266.78 204.83,266.79 207.01,266.81 209.20,266.83 211.39,266.85 213.57,266.87 215.76,266.88 217.94,266.90 220.13,266.92 222.31,266.94 224.50,266.96 226.68,266.97 228.87,266.99 231.06,267.01 233.24,267.03 235.43,267.05 237.61,267.06 239.80,267.08" stroke="#60a070" stroke-width="0.8" fill="none" stroke-linejoin="round" />
<polyline points="70.50,286.60 71.14,286.23 71.77,285.85 72.41,285.48 73.04,285.11 73.68,284.75 74.32,284.38 74.95,284.02 75.59,283.65 76.22,283.29 76.86,282.93 77.50,282.57 78.13,282.21 78.77,281.86 79.41,281.50 80.04,281.15 80.68,280.79 81.31,280.44 81.95,280.09 82.59,279.75 83.22,279.40 83.86,279.05 84.49,278.71 85.13,278.37 85.77,278.03 86.40,277.69 87.04,277.35 87.67,277.01 88.31,276.67 88.95,276.34 89.58,276.00 90.22,275.67 90.85,275.34 91.49,275.01 92.13,274.68 92.76,274.36 93.40,274.03 94.04,273.71 94.67,273.38 95.31,273.06 95.94,272.74 96.58,272.42 97.22,272.10 97.85,271.78 98.49,271.47 99.12,271.15 99.76,270.84 100.40,270.53 101.03,270.22 101.67,269.91 102.30,269.60 102.94,269.29 103.58,268.99 104.21,268.68 104.85,268.38 105.48,268.07 106.12,267.77 106.76,267.47 107.39,267.17 108.03,266.88 108.67,266.58 110.85,266.60 113.04,266.62 115.22,266.64 117.41,266.65 119.59,266.67 121.78,266.69 123.96,266.71 126.15,266.73 128.34,266.75 130.52,266.77 132.71,266.79 134.89,266.80 137.08,266.82 139.26,266.84 141.45,266.86 143.63,266.88 145.82,266.90 148.01,266.92 150.19,266.93 152.38,266.95 154.56,266.97 156.75,266.99 158.93,267.01 161.12,267.03 163.30,267.05 165.49,267.06 167.67,267.08 169.86,267.10 172.05,267.12 174.23,267.14 176.42,267.16 178.60,267.17 180.79,267.19 182.97,267.21 185.16,267.23 187.34,267.25 189.53,267.27 191.72,267.28 193.90,267.30 196.09,267.32 198.27,267.34 200.46,267.36 202.64,267.38 204.83,267.39 207.01,267.41 209.20,267.43 211.39,267.45 213.57,267.47 215.76,267.48 217.94,267.50 220.13,267.52 222.31,267.54 224.50,267.56 226.68,267.57 228.87,267.59 231.06,267.61 233.24,267.63 235.43,267.65 237.61,267.66 239.80,267.68" stroke="#333" stroke-width="1.05" fill="none" stroke-linejoin="round" />
<polyline points="70.50,286.00 71.14,285.86 71.77,285.73 72.41,285.59 73.04,285.46 73.68,285.32 74.32,285.19 74.95,285.06 75.59,284.92 76.22,284.79 76.86,284.66 77.50,284.53 78.13,284.40 78.77,284.27 79.41,284.14 80.04,284.01 80.68,283.88 81.31,283.75 81.95,283.62 82.59,283.49 83.22,283.37 83.86,283.24 84.49,283.12 85.13,282.99 85.77,282.86 86.40,282.74 87.04,282.62 87.67,282.49 88.31,282.37 88.95,282.25 89.58,282.13 90.22,282.00 90.85,281.88 91.49,281.76 92.13,281.64 92.76,281.52 93.40,281.40 94.04,281.29 94.67,281.17 95.31,281.05 95.94,280.93 96.58,280.82 97.22,280.70 97.85,280.58 98.49,280.47 99.12,280.35 99.76,280.24 100.40,280.12 101.03,280.01 101.67,279.90 102.30,279.78 102.94,279.67 103.58,279.56 104.21,279.45 104.85,279.34 105.48,279.23 106.12,279.12 106.76,279.01 107.39,278.90 108.03,278.79 108.67,278.68 110.85,278.70 113.04,278.72 115.22,278.74 117.41,278.76 119.59,278.78 121.78,278.80 123.96,278.82 126.15,278.84 128.34,278.86 130.52,278.88 132.71,278.90 134.89,278.91 137.08,278.93 139.26,278.95 141.45,278.97 143.63,278.99 145.82,279.01 148.01,279.03 150.19,279.05 152.38,279.07 154.56,279.09 156.75,279.10 158.93,279.12 161.12,279.14 163.30,279.16 165.49,279.18 167.67,279.20 169.86,279.22 172.05,279.23 174.23,279.25 176.42,279.27 178.60,279.29 180.79,279.31 182.97,279.33 185.16,279.34 187.34,279.36 189.53,279.38 191.72,279.40 193.90,279.42 196.09,279.43 198.27,279.45 200.46,279.47 202.64,279.49 204.83,279.51 207.01,279.52 209.20,279.54 211.39,279.56 213.57,279.58 215.76,279.59 217.94,279.61 220.13,279.63 222.31,279.65 224.50,279.66 226.68,279.68 228.87,279.70 231.06,279.71 233.24,279.73 235.43,279.75 237.61,279.76 239.80,279.78" stroke="#d09040" stroke-width="0.8" fill="none" stroke-linejoin="round" />
<polyline points="70.50,286.60 71.14,286.46 71.77,286.33 72.41,286.19 73.04,286.06 73.68,285.92 74.32,285.79 74.95,285.66 75.59,285.52 76.22,285.39 76.86,285.26 77.50,285.13 78.13,285.00 78.77,284.87 79.41,284.74 80.04,284.61 80.68,284.48 81.31,284.35 81.95,284.22 82.59,284.09 83.22,283.97 83.86,283.84 84.49,283.72 85.13,283.59 85.77,283.46 86.40,283.34 87.04,283.22 87.67,283.09 88.31,282.97 88.95,282.85 89.58,282.73 90.22,282.60 90.85,282.48 91.49,282.36 92.13,282.24 92.76,282.12 93.40,282.00 94.04,281.89 94.67,281.77 95.31,281.65 95.94,281.53 96.58,281.42 97.22,281.30 97.85,281.18 98.49,281.07 99.12,280.95 99.76,280.84 100.40,280.72 101.03,280.61 101.67,280.50 102.30,280.38 102.94,280.27 103.58,280.16 104.21,280.05 104.85,279.94 105.48,279.83 106.12,279.72 106.76,279.61 107.39,279.50 108.03,279.39 108.67,279.28 110.85,279.30 113.04,279.32 115.22,279.34 117.41,279.36 119.59,279.38 121.78,279.40 123.96,279.42 126.15,279.44 128.34,279.46 130.52,279.48 132.71,279.50 134.89,279.51 137.08,279.53 139.26,279.55 141.45,279.57 143.63,279.59 145.82,279.61 148.01,279.63 150.19,279.65 152.38,279.67 154.56,279.69 156.75,279.70 158.93,279.72 161.12,279.74 163.30,279.76 165.49,279.78 167.67,279.80 169.86,279.82 172.05,279.83 174.23,279.85 176.42,279.87 178.60,279.89 180.79,279.91 182.97,279.93 185.16,279.94 187.34,279.96 189.53,279.98 191.72,280.00 193.90,280.02 196.09,280.03 198.27,280.05 200.46,280.07 202.64,280.09 204.83,280.11 207.01,280.12 209.20,280.14 211.39,280.16 213.57,280.18 215.76,280.19 217.94,280.21 220.13,280.23 222.31,280.25 224.50,280.26 226.68,280.28 228.87,280.30 231.06,280.31 233.24,280.33 235.43,280.35 237.61,280.36 239.80,280.38" stroke="#333" stroke-width="1.05" fill="none" stroke-linejoin="round" />
<polyline points="70.50,286.00 71.14,285.96 71.77,285.91 72.41,285.87 73.04,285.82 73.68,285.78 74.32,285.74 74.95,285.69 75.59,285.65 76.22,285.61 76.86,285.56 77.50,285.52 78.13,285.48 78.77,285.44 79.41,285.39 80.04,285.35 80.68,285.31 81.31,285.27 81.95,285.23 82.59,285.18 83.22,285.14 83.86,285.10 84.49,285.06 85.13,285.02 85.77,284.98 86.40,284.94 87.04,284.90 87.67,284.86 88.31,284.82 88.95,284.78 89.58,284.74 90.22,284.70 90.85,284.66 91.49,284.62 92.13,284.58 92.76,284.54 93.40,284.50 94.04,284.47 94.67,284.43 95.31,284.39 95.94,284.35 96.58,284.31 97.22,284.28 97.85,284.24 98.49,284.20 99.12,284.16 99.76,284.13 100.40,284.09 101.03,284.05 101.67,284.01 102.30,283.98 102.94,283.94 103.58,283.90 104.21,283.87 104.85,283.83 105.48,283.80 106.12,283.76 106.76,283.72 107.39,283.69 108.03,283.65 108.67,283.62 110.85,283.63 113.04,283.63 115.22,283.64 117.41,283.65 119.59,283.65 121.78,283.66 123.96,283.67 126.15,283.68 128.34,283.68 130.52,283.69 132.71,283.70 134.89,283.70 137.08,283.71 139.26,283.72 141.45,283.72 143.63,283.73 145.82,283.74 148.01,283.75 150.19,283.75 152.38,283.76 154.56,283.77 156.75,283.77 158.93,283.78 161.12,283.79 163.30,283.79 165.49,283.80 167.67,283.81 169.86,283.81 172.05,283.82 174.23,283.83 176.42,283.83 178.60,283.84 180.79,283.85 182.97,283.85 185.16,283.86 187.34,283.87 189.53,283.87 191.72,283.88 193.90,283.88 196.09,283.89 198.27,283.90 200.46,283.90 202.64,283.91 204.83,283.92 207.01,283.92 209.20,283.93 211.39,283.94 213.57,283.94 215.76,283.95 217.94,283.95 220.13,283.96 222.31,283.97 224.50,283.97 226.68,283.98 228.87,283.99 231.06,283.99 233.24,284.00 235.43,284.00 237.61,284.01 239.80,284.02" stroke="#5070c0" stroke-width="0.8" fill="none" stroke-linejoin="round" />
<polyline points="70.50,286.60 71.14,286.56 71.77,286.51 72.41,286.47 73.04,286.42 73.68,286.38 74.32,286.34 74.95,286.29 75.59,286.25 76.22,286.21 76.86,286.16 77.50,286.12 78.13,286.08 78.77,286.04 79.41,285.99 80.04,285.95 80.68,285.91 81.31,285.87 81.95,285.83 82.59,285.78 83.22,285.74 83.86,285.70 84.49,285.66 85.13,285.62 85.77,285.58 86.40,285.54 87.04,285.50 87.67,285.46 88.31,285.42 88.95,285.38 89.58,285.34 90.22,285.30 90.85,285.26 91.49,285.22 92.13,285.18 92.76,285.14 93.40,285.10 94.04,285.07 94.67,285.03 95.31,284.99 95.94,284.95 96.58,284.91 97.22,284.88 97.85,284.84 98.49,284.80 99.12,284.76 99.76,284.73 100.40,284.69 101.03,284.65 101.67,284.61 102.30,284.58 102.94,284.54 103.58,284.50 104.21,284.47 104.85,284.43 105.48,284.40 106.12,284.36 106.76,284.32 107.39,284.29 108.03,284.25 108.67,284.22 110.85,284.23 113.04,284.23 115.22,284.24 117.41,284.25 119.59,284.25 121.78,284.26 123.96,284.27 126.15,284.28 128.34,284.28 130.52,284.29 132.71,284.30 134.89,284.30 137.08,284.31 139.26,284.32 141.45,284.32 143.63,284.33 145.82,284.34 148.01,284.35 150.19,284.35 152.38,284.36 154.56,284.37 156.75,284.37 158.93,284.38 161.12,284.39 163.30,284.39 165.49,284.40 167.67,284.41 169.86,284.41 172.05,284.42 174.23,284.43 176.42,284.43 178.60,284.44 180.79,284.45 182.97,284.45 185.16,284.46 187.34,284.47 189.53,284.47 191.72,284.48 193.90,284.48 196.09,284.49 198.27,284.50 200.46,284.50 202.64,284.51 204.83,284.52 207.01,284.52 209.20,284.53 211.39,284.54 213.57,284.54 215.76,284.55 217.94,284.55 220.13,284.56 222.31,284.57 224.50,284.57 226.68,284.58 228.87,284.59 231.06,284.59 233.24,284.60 235.43,284.60 237.61,284.61 239.80,284.62" stroke="#333" stroke-width="1.05" fill="none" stroke-linejoin="round" />
<text x="394.5" y="202.1" font-size="9" text-anchor="start" fill="#2c2c2c" font-weight="normal" textLength="44.7" lengthAdjust="spacingAndGlyphs" stroke-width="0.22"  stroke="#2c2c2c">Venetoclax</text>
<line x1="320.30" y1="208.00" x2="320.30" y2="293.10" stroke="#262626" stroke-width="1.45" />
<line x1="319.70" y1="292.50" x2="513.00" y2="292.50" stroke="#262626" stroke-width="1.45" />
<line x1="317.50" y1="222.35" x2="320.30" y2="222.35" stroke="#262626" stroke-width="0.9" />
<text x="314.8" y="224.75" font-size="6.8" text-anchor="end" fill="#2c2c2c" font-weight="normal"  stroke="#2c2c2c" stroke-width="0.2">15</text>
<line x1="317.50" y1="244.30" x2="320.30" y2="244.30" stroke="#262626" stroke-width="0.9" />
<text x="314.8" y="246.7" font-size="6.8" text-anchor="end" fill="#2c2c2c" font-weight="normal"  stroke="#2c2c2c" stroke-width="0.2">10</text>
<line x1="317.50" y1="266.25" x2="320.30" y2="266.25" stroke="#262626" stroke-width="0.9" />
<text x="314.8" y="268.65" font-size="6.8" text-anchor="end" fill="#2c2c2c" font-weight="normal"  stroke="#2c2c2c" stroke-width="0.2">5</text>
<line x1="317.50" y1="288.20" x2="320.30" y2="288.20" stroke="#262626" stroke-width="0.9" />
<text x="314.8" y="290.59999999999997" font-size="6.8" text-anchor="end" fill="#2c2c2c" font-weight="normal"  stroke="#2c2c2c" stroke-width="0.2">0</text>
<line x1="338.80" y1="292.50" x2="338.80" y2="295.10" stroke="#262626" stroke-width="0.9" />
<text x="338.8" y="305" font-size="6.8" text-anchor="middle" fill="#2c2c2c" font-weight="normal"  stroke="#2c2c2c" stroke-width="0.2">0</text>
<line x1="418.65" y1="292.50" x2="418.65" y2="295.10" stroke="#262626" stroke-width="0.9" />
<text x="418.65000000000003" y="305" font-size="6.8" text-anchor="middle" fill="#2c2c2c" font-weight="normal"  stroke="#2c2c2c" stroke-width="0.2">500</text>
<line x1="498.50" y1="292.50" x2="498.50" y2="295.10" stroke="#262626" stroke-width="0.9" />
<text x="498.5" y="305" font-size="6.8" text-anchor="middle" fill="#2c2c2c" font-weight="normal"  stroke="#2c2c2c" stroke-width="0.2">1000</text>
<text x="404.35" y="317.6" font-size="7.3" text-anchor="start" fill="#2c2c2c" font-weight="normal" textLength="24.6" lengthAdjust="spacingAndGlyphs"  stroke="#2c2c2c" stroke-width="0.2">Time (s)</text>
<text transform="translate(301.6,250) rotate(-90)" font-size="7.9" stroke-width="0.18" text-anchor="middle" fill="#2c2c2c" textLength="45" lengthAdjust="spacingAndGlyphs" stroke="#2c2c2c">Response (RU)</text>
<text x="446.8" y="213.1" font-size="6.9" fill="#2c2c2c" stroke="#2c2c2c" stroke-width="0.2">K<tspan font-size="4.5" dy="1.4">D</tspan><tspan dy="-1.4">= 1.1 ± 0.050 nM</tspan></text>
<line x1="328.80" y1="288.50" x2="338.80" y2="288.50" stroke="#333" stroke-width="1.0" />
<polyline points="338.80,287.60 339.44,282.85 340.09,278.40 340.73,274.23 341.38,270.31 342.02,266.65 342.66,263.21 343.31,259.98 343.95,256.96 344.60,254.13 345.24,251.47 345.89,248.98 346.53,246.64 347.17,244.46 347.82,242.40 348.46,240.48 349.11,238.68 349.75,236.98 350.39,235.40 351.04,233.91 351.68,232.52 352.33,231.21 352.97,229.99 353.61,228.84 354.26,227.76 354.90,226.76 355.55,225.81 356.19,224.92 356.84,224.09 357.48,223.31 358.12,222.58 358.77,221.90 359.41,221.25 360.06,220.65 360.70,220.09 361.34,219.56 361.99,219.06 362.63,218.60 363.28,218.16 363.92,217.75 364.56,217.37 365.21,217.01 365.85,216.67 366.50,216.36 367.14,216.06 367.79,215.78 368.43,215.52 369.07,215.28 369.72,215.05 370.36,214.84 371.01,214.63 371.65,214.45 372.29,214.27 372.94,214.10 373.58,213.95 374.23,213.80 374.87,213.67 375.52,213.54 376.16,213.42 376.80,213.31 377.45,213.20 379.58,213.29 381.71,213.37 383.84,213.46 385.96,213.54 388.09,213.63 390.22,213.72 392.35,213.80 394.48,213.89 396.61,213.97 398.74,214.06 400.87,214.14 403.00,214.23 405.13,214.31 407.26,214.40 409.39,214.48 411.52,214.57 413.65,214.65 415.78,214.74 417.90,214.82 420.03,214.91 422.16,214.99 424.29,215.07 426.42,215.16 428.55,215.24 430.68,215.33 432.81,215.41 434.94,215.49 437.07,215.58 439.20,215.66 441.33,215.74 443.46,215.83 445.59,215.91 447.72,215.99 449.84,216.08 451.97,216.16 454.10,216.24 456.23,216.32 458.36,216.41 460.49,216.49 462.62,216.57 464.75,216.65 466.88,216.74 469.01,216.82 471.14,216.90 473.27,216.98 475.40,217.06 477.53,217.15 479.66,217.23 481.78,217.31 483.91,217.39 486.04,217.47 488.17,217.55 490.30,217.63 492.43,217.72 494.56,217.80 496.69,217.88 498.82,217.96 500.95,218.04 503.08,218.12 505.21,218.20" stroke="#e8b050" stroke-width="0.8" fill="none" stroke-linejoin="round" />
<polyline points="338.80,288.20 339.44,283.45 340.09,279.00 340.73,274.83 341.38,270.91 342.02,267.25 342.66,263.81 343.31,260.58 343.95,257.56 344.60,254.73 345.24,252.07 345.89,249.58 346.53,247.24 347.17,245.06 347.82,243.00 348.46,241.08 349.11,239.28 349.75,237.58 350.39,236.00 351.04,234.51 351.68,233.12 352.33,231.81 352.97,230.59 353.61,229.44 354.26,228.36 354.90,227.36 355.55,226.41 356.19,225.52 356.84,224.69 357.48,223.91 358.12,223.18 358.77,222.50 359.41,221.85 360.06,221.25 360.70,220.69 361.34,220.16 361.99,219.66 362.63,219.20 363.28,218.76 363.92,218.35 364.56,217.97 365.21,217.61 365.85,217.27 366.50,216.96 367.14,216.66 367.79,216.38 368.43,216.12 369.07,215.88 369.72,215.65 370.36,215.44 371.01,215.23 371.65,215.05 372.29,214.87 372.94,214.70 373.58,214.55 374.23,214.40 374.87,214.27 375.52,214.14 376.16,214.02 376.80,213.91 377.45,213.80 379.58,213.89 381.71,213.97 383.84,214.06 385.96,214.14 388.09,214.23 390.22,214.32 392.35,214.40 394.48,214.49 396.61,214.57 398.74,214.66 400.87,214.74 403.00,214.83 405.13,214.91 407.26,215.00 409.39,215.08 411.52,215.17 413.65,215.25 415.78,215.34 417.90,215.42 420.03,215.51 422.16,215.59 424.29,215.67 426.42,215.76 428.55,215.84 430.68,215.93 432.81,216.01 434.94,216.09 437.07,216.18 439.20,216.26 441.33,216.34 443.46,216.43 445.59,216.51 447.72,216.59 449.84,216.68 451.97,216.76 454.10,216.84 456.23,216.92 458.36,217.01 460.49,217.09 462.62,217.17 464.75,217.25 466.88,217.34 469.01,217.42 471.14,217.50 473.27,217.58 475.40,217.66 477.53,217.75 479.66,217.83 481.78,217.91 483.91,217.99 486.04,218.07 488.17,218.15 490.30,218.23 492.43,218.32 494.56,218.40 496.69,218.48 498.82,218.56 500.95,218.64 503.08,218.72 505.21,218.80" stroke="#333" stroke-width="1.05" fill="none" stroke-linejoin="round" />
<polyline points="338.80,287.60 339.44,285.48 340.09,283.42 340.73,281.41 341.38,279.46 342.02,277.57 342.66,275.73 343.31,273.93 343.95,272.19 344.60,270.50 345.24,268.86 345.89,267.26 346.53,265.70 347.17,264.19 347.82,262.72 348.46,261.29 349.11,259.90 349.75,258.55 350.39,257.24 351.04,255.96 351.68,254.72 352.33,253.52 352.97,252.34 353.61,251.20 354.26,250.09 354.90,249.02 355.55,247.97 356.19,246.95 356.84,245.96 357.48,245.00 358.12,244.06 358.77,243.15 359.41,242.27 360.06,241.41 360.70,240.58 361.34,239.76 361.99,238.97 362.63,238.21 363.28,237.46 363.92,236.73 364.56,236.03 365.21,235.34 365.85,234.68 366.50,234.03 367.14,233.40 367.79,232.78 368.43,232.19 369.07,231.61 369.72,231.05 370.36,230.50 371.01,229.97 371.65,229.45 372.29,228.95 372.94,228.46 373.58,227.99 374.23,227.52 374.87,227.07 375.52,226.64 376.16,226.21 376.80,225.80 377.45,225.40 379.58,225.47 381.71,225.54 383.84,225.62 385.96,225.69 388.09,225.76 390.22,225.83 392.35,225.91 394.48,225.98 396.61,226.05 398.74,226.12 400.87,226.19 403.00,226.26 405.13,226.34 407.26,226.41 409.39,226.48 411.52,226.55 413.65,226.62 415.78,226.69 417.90,226.76 420.03,226.83 422.16,226.90 424.29,226.97 426.42,227.04 428.55,227.12 430.68,227.19 432.81,227.26 434.94,227.33 437.07,227.40 439.20,227.47 441.33,227.54 443.46,227.61 445.59,227.68 447.72,227.75 449.84,227.82 451.97,227.89 454.10,227.96 456.23,228.02 458.36,228.09 460.49,228.16 462.62,228.23 464.75,228.30 466.88,228.37 469.01,228.44 471.14,228.51 473.27,228.58 475.40,228.65 477.53,228.71 479.66,228.78 481.78,228.85 483.91,228.92 486.04,228.99 488.17,229.06 490.30,229.12 492.43,229.19 494.56,229.26 496.69,229.33 498.82,229.40 500.95,229.46 503.08,229.53 505.21,229.60" stroke="#6080b0" stroke-width="0.8" fill="none" stroke-linejoin="round" />
<polyline points="338.80,288.20 339.44,286.08 340.09,284.02 340.73,282.01 341.38,280.06 342.02,278.17 342.66,276.33 343.31,274.53 343.95,272.79 344.60,271.10 345.24,269.46 345.89,267.86 346.53,266.30 347.17,264.79 347.82,263.32 348.46,261.89 349.11,260.50 349.75,259.15 350.39,257.84 351.04,256.56 351.68,255.32 352.33,254.12 352.97,252.94 353.61,251.80 354.26,250.69 354.90,249.62 355.55,248.57 356.19,247.55 356.84,246.56 357.48,245.60 358.12,244.66 358.77,243.75 359.41,242.87 360.06,242.01 360.70,241.18 361.34,240.36 361.99,239.57 362.63,238.81 363.28,238.06 363.92,237.33 364.56,236.63 365.21,235.94 365.85,235.28 366.50,234.63 367.14,234.00 367.79,233.38 368.43,232.79 369.07,232.21 369.72,231.65 370.36,231.10 371.01,230.57 371.65,230.05 372.29,229.55 372.94,229.06 373.58,228.59 374.23,228.12 374.87,227.67 375.52,227.24 376.16,226.81 376.80,226.40 377.45,226.00 379.58,226.07 381.71,226.14 383.84,226.22 385.96,226.29 388.09,226.36 390.22,226.43 392.35,226.51 394.48,226.58 396.61,226.65 398.74,226.72 400.87,226.79 403.00,226.86 405.13,226.94 407.26,227.01 409.39,227.08 411.52,227.15 413.65,227.22 415.78,227.29 417.90,227.36 420.03,227.43 422.16,227.50 424.29,227.57 426.42,227.64 428.55,227.72 430.68,227.79 432.81,227.86 434.94,227.93 437.07,228.00 439.20,228.07 441.33,228.14 443.46,228.21 445.59,228.28 447.72,228.35 449.84,228.42 451.97,228.49 454.10,228.56 456.23,228.62 458.36,228.69 460.49,228.76 462.62,228.83 464.75,228.90 466.88,228.97 469.01,229.04 471.14,229.11 473.27,229.18 475.40,229.25 477.53,229.31 479.66,229.38 481.78,229.45 483.91,229.52 486.04,229.59 488.17,229.66 490.30,229.72 492.43,229.79 494.56,229.86 496.69,229.93 498.82,230.00 500.95,230.06 503.08,230.13 505.21,230.20" stroke="#333" stroke-width="1.05" fill="none" stroke-linejoin="round" />
<polyline points="338.80,287.60 339.44,286.63 340.09,285.67 340.73,284.72 341.38,283.78 342.02,282.84 342.66,281.91 343.31,280.99 343.95,280.07 344.60,279.17 345.24,278.27 345.89,277.38 346.53,276.49 347.17,275.61 347.82,274.74 348.46,273.88 349.11,273.02 349.75,272.17 350.39,271.33 351.04,270.49 351.68,269.66 352.33,268.84 352.97,268.02 353.61,267.21 354.26,266.41 354.90,265.61 355.55,264.82 356.19,264.03 356.84,263.26 357.48,262.48 358.12,261.72 358.77,260.96 359.41,260.21 360.06,259.46 360.70,258.72 361.34,257.98 361.99,257.25 362.63,256.53 363.28,255.81 363.92,255.10 364.56,254.39 365.21,253.69 365.85,253.00 366.50,252.31 367.14,251.62 367.79,250.95 368.43,250.27 369.07,249.60 369.72,248.94 370.36,248.29 371.01,247.63 371.65,246.99 372.29,246.35 372.94,245.71 373.58,245.08 374.23,244.45 374.87,243.83 375.52,243.22 376.16,242.61 376.80,242.00 377.45,241.40 379.58,241.49 381.71,241.58 383.84,241.66 385.96,241.75 388.09,241.84 390.22,241.93 392.35,242.01 394.48,242.10 396.61,242.19 398.74,242.27 400.87,242.36 403.00,242.45 405.13,242.53 407.26,242.62 409.39,242.70 411.52,242.79 413.65,242.88 415.78,242.96 417.90,243.05 420.03,243.13 422.16,243.22 424.29,243.30 426.42,243.38 428.55,243.47 430.68,243.55 432.81,243.64 434.94,243.72 437.07,243.80 439.20,243.89 441.33,243.97 443.46,244.05 445.59,244.14 447.72,244.22 449.84,244.30 451.97,244.39 454.10,244.47 456.23,244.55 458.36,244.63 460.49,244.71 462.62,244.80 464.75,244.88 466.88,244.96 469.01,245.04 471.14,245.12 473.27,245.20 475.40,245.28 477.53,245.36 479.66,245.45 481.78,245.53 483.91,245.61 486.04,245.69 488.17,245.77 490.30,245.85 492.43,245.93 494.56,246.00 496.69,246.08 498.82,246.16 500.95,246.24 503.08,246.32 505.21,246.40" stroke="#e05070" stroke-width="0.8" fill="none" stroke-linejoin="round" />
<polyline points="338.80,288.20 339.44,287.23 340.09,286.27 340.73,285.32 341.38,284.38 342.02,283.44 342.66,282.51 343.31,281.59 343.95,280.67 344.60,279.77 345.24,278.87 345.89,277.98 346.53,277.09 347.17,276.21 347.82,275.34 348.46,274.48 349.11,273.62 349.75,272.77 350.39,271.93 351.04,271.09 351.68,270.26 352.33,269.44 352.97,268.62 353.61,267.81 354.26,267.01 354.90,266.21 355.55,265.42 356.19,264.63 356.84,263.86 357.48,263.08 358.12,262.32 358.77,261.56 359.41,260.81 360.06,260.06 360.70,259.32 361.34,258.58 361.99,257.85 362.63,257.13 363.28,256.41 363.92,255.70 364.56,254.99 365.21,254.29 365.85,253.60 366.50,252.91 367.14,252.22 367.79,251.55 368.43,250.87 369.07,250.20 369.72,249.54 370.36,248.89 371.01,248.23 371.65,247.59 372.29,246.95 372.94,246.31 373.58,245.68 374.23,245.05 374.87,244.43 375.52,243.82 376.16,243.21 376.80,242.60 377.45,242.00 379.58,242.09 381.71,242.18 383.84,242.26 385.96,242.35 388.09,242.44 390.22,242.53 392.35,242.61 394.48,242.70 396.61,242.79 398.74,242.87 400.87,242.96 403.00,243.05 405.13,243.13 407.26,243.22 409.39,243.30 411.52,243.39 413.65,243.48 415.78,243.56 417.90,243.65 420.03,243.73 422.16,243.82 424.29,243.90 426.42,243.98 428.55,244.07 430.68,244.15 432.81,244.24 434.94,244.32 437.07,244.40 439.20,244.49 441.33,244.57 443.46,244.65 445.59,244.74 447.72,244.82 449.84,244.90 451.97,244.99 454.10,245.07 456.23,245.15 458.36,245.23 460.49,245.31 462.62,245.40 464.75,245.48 466.88,245.56 469.01,245.64 471.14,245.72 473.27,245.80 475.40,245.88 477.53,245.96 479.66,246.05 481.78,246.13 483.91,246.21 486.04,246.29 488.17,246.37 490.30,246.45 492.43,246.53 494.56,246.60 496.69,246.68 498.82,246.76 500.95,246.84 503.08,246.92 505.21,247.00" stroke="#333" stroke-width="1.05" fill="none" stroke-linejoin="round" />
<polyline points="338.80,288.20 339.44,287.37 340.09,286.54 340.73,285.72 341.38,284.90 342.02,284.09 342.66,283.28 343.31,282.48 343.95,281.68 344.60,280.89 345.24,280.10 345.89,279.32 346.53,278.54 347.17,277.76 347.82,277.00 348.46,276.23 349.11,275.47 349.75,274.72 350.39,273.96 351.04,273.22 351.68,272.48 352.33,271.74 352.97,271.01 353.61,270.28 354.26,269.55 354.90,268.83 355.55,268.12 356.19,267.41 356.84,266.70 357.48,266.00 358.12,265.30 358.77,264.61 359.41,263.92 360.06,263.23 360.70,262.55 361.34,261.87 361.99,261.20 362.63,260.53 363.28,259.86 363.92,259.20 364.56,258.54 365.21,257.89 365.85,257.24 366.50,256.60 367.14,255.95 367.79,255.32 368.43,254.68 369.07,254.05 369.72,253.43 370.36,252.80 371.01,252.19 371.65,251.57 372.29,250.96 372.94,250.35 373.58,249.75 374.23,249.15 374.87,248.55 375.52,247.96 376.16,247.37 376.80,246.78 377.45,246.20 379.58,246.24 381.71,246.28 383.84,246.32 385.96,246.36 388.09,246.40 390.22,246.44 392.35,246.48 394.48,246.51 396.61,246.55 398.74,246.59 400.87,246.63 403.00,246.67 405.13,246.71 407.26,246.75 409.39,246.79 411.52,246.83 413.65,246.86 415.78,246.90 417.90,246.94 420.03,246.98 422.16,247.02 424.29,247.06 426.42,247.10 428.55,247.14 430.68,247.17 432.81,247.21 434.94,247.25 437.07,247.29 439.20,247.33 441.33,247.37 443.46,247.40 445.59,247.44 447.72,247.48 449.84,247.52 451.97,247.56 454.10,247.60 456.23,247.63 458.36,247.67 460.49,247.71 462.62,247.75 464.75,247.79 466.88,247.82 469.01,247.86 471.14,247.90 473.27,247.94 475.40,247.97 477.53,248.01 479.66,248.05 481.78,248.09 483.91,248.13 486.04,248.16 488.17,248.20 490.30,248.24 492.43,248.28 494.56,248.31 496.69,248.35 498.82,248.39 500.95,248.43 503.08,248.46 505.21,248.50" stroke="#333" stroke-width="1.05" fill="none" stroke-linejoin="round" />
<polyline points="338.80,288.20 339.44,287.73 340.09,287.26 340.73,286.79 341.38,286.32 342.02,285.86 342.66,285.40 343.31,284.94 343.95,284.48 344.60,284.02 345.24,283.57 345.89,283.11 346.53,282.66 347.17,282.21 347.82,281.76 348.46,281.32 349.11,280.87 349.75,280.43 350.39,279.99 351.04,279.55 351.68,279.11 352.33,278.68 352.97,278.25 353.61,277.81 354.26,277.38 354.90,276.95 355.55,276.53 356.19,276.10 356.84,275.68 357.48,275.26 358.12,274.84 358.77,274.42 359.41,274.00 360.06,273.59 360.70,273.18 361.34,272.76 361.99,272.35 362.63,271.95 363.28,271.54 363.92,271.14 364.56,270.73 365.21,270.33 365.85,269.93 366.50,269.53 367.14,269.14 367.79,268.74 368.43,268.35 369.07,267.95 369.72,267.56 370.36,267.18 371.01,266.79 371.65,266.40 372.29,266.02 372.94,265.64 373.58,265.25 374.23,264.87 374.87,264.50 375.52,264.12 376.16,263.75 376.80,263.37 377.45,263.00 379.58,263.04 381.71,263.08 383.84,263.11 385.96,263.15 388.09,263.19 390.22,263.23 392.35,263.27 394.48,263.31 396.61,263.34 398.74,263.38 400.87,263.42 403.00,263.46 405.13,263.49 407.26,263.53 409.39,263.57 411.52,263.61 413.65,263.64 415.78,263.68 417.90,263.72 420.03,263.76 422.16,263.79 424.29,263.83 426.42,263.87 428.55,263.90 430.68,263.94 432.81,263.98 434.94,264.01 437.07,264.05 439.20,264.09 441.33,264.13 443.46,264.16 445.59,264.20 447.72,264.23 449.84,264.27 451.97,264.31 454.10,264.34 456.23,264.38 458.36,264.42 460.49,264.45 462.62,264.49 464.75,264.52 466.88,264.56 469.01,264.60 471.14,264.63 473.27,264.67 475.40,264.70 477.53,264.74 479.66,264.78 481.78,264.81 483.91,264.85 486.04,264.88 488.17,264.92 490.30,264.95 492.43,264.99 494.56,265.02 496.69,265.06 498.82,265.09 500.95,265.13 503.08,265.16 505.21,265.20" stroke="#333" stroke-width="1.05" fill="none" stroke-linejoin="round" />
<polyline points="338.80,287.60 339.44,287.35 340.09,287.11 340.73,286.86 341.38,286.62 342.02,286.37 342.66,286.13 343.31,285.89 343.95,285.65 344.60,285.41 345.24,285.17 345.89,284.93 346.53,284.70 347.17,284.46 347.82,284.23 348.46,283.99 349.11,283.76 349.75,283.53 350.39,283.30 351.04,283.07 351.68,282.84 352.33,282.61 352.97,282.39 353.61,282.16 354.26,281.93 354.90,281.71 355.55,281.49 356.19,281.26 356.84,281.04 357.48,280.82 358.12,280.60 358.77,280.38 359.41,280.16 360.06,279.95 360.70,279.73 361.34,279.51 361.99,279.30 362.63,279.09 363.28,278.87 363.92,278.66 364.56,278.45 365.21,278.24 365.85,278.03 366.50,277.82 367.14,277.61 367.79,277.41 368.43,277.20 369.07,277.00 369.72,276.79 370.36,276.59 371.01,276.38 371.65,276.18 372.29,275.98 372.94,275.78 373.58,275.58 374.23,275.38 374.87,275.18 375.52,274.99 376.16,274.79 376.80,274.59 377.45,274.40 379.58,274.42 381.71,274.44 383.84,274.46 385.96,274.48 388.09,274.50 390.22,274.53 392.35,274.55 394.48,274.57 396.61,274.59 398.74,274.61 400.87,274.63 403.00,274.65 405.13,274.67 407.26,274.69 409.39,274.71 411.52,274.73 413.65,274.75 415.78,274.77 417.90,274.79 420.03,274.81 422.16,274.83 424.29,274.85 426.42,274.87 428.55,274.89 430.68,274.91 432.81,274.93 434.94,274.95 437.07,274.97 439.20,274.99 441.33,275.01 443.46,275.03 445.59,275.05 447.72,275.07 449.84,275.09 451.97,275.11 454.10,275.13 456.23,275.15 458.36,275.17 460.49,275.19 462.62,275.21 464.75,275.23 466.88,275.25 469.01,275.27 471.14,275.29 473.27,275.31 475.40,275.33 477.53,275.35 479.66,275.37 481.78,275.39 483.91,275.41 486.04,275.43 488.17,275.45 490.30,275.47 492.43,275.49 494.56,275.50 496.69,275.52 498.82,275.54 500.95,275.56 503.08,275.58 505.21,275.60" stroke="#7060b0" stroke-width="0.8" fill="none" stroke-linejoin="round" />
<polyline points="338.80,288.20 339.44,287.95 340.09,287.71 340.73,287.46 341.38,287.22 342.02,286.97 342.66,286.73 343.31,286.49 343.95,286.25 344.60,286.01 345.24,285.77 345.89,285.53 346.53,285.30 347.17,285.06 347.82,284.83 348.46,284.59 349.11,284.36 349.75,284.13 350.39,283.90 351.04,283.67 351.68,283.44 352.33,283.21 352.97,282.99 353.61,282.76 354.26,282.53 354.90,282.31 355.55,282.09 356.19,281.86 356.84,281.64 357.48,281.42 358.12,281.20 358.77,280.98 359.41,280.76 360.06,280.55 360.70,280.33 361.34,280.11 361.99,279.90 362.63,279.69 363.28,279.47 363.92,279.26 364.56,279.05 365.21,278.84 365.85,278.63 366.50,278.42 367.14,278.21 367.79,278.01 368.43,277.80 369.07,277.60 369.72,277.39 370.36,277.19 371.01,276.98 371.65,276.78 372.29,276.58 372.94,276.38 373.58,276.18 374.23,275.98 374.87,275.78 375.52,275.59 376.16,275.39 376.80,275.19 377.45,275.00 379.58,275.02 381.71,275.04 383.84,275.06 385.96,275.08 388.09,275.10 390.22,275.13 392.35,275.15 394.48,275.17 396.61,275.19 398.74,275.21 400.87,275.23 403.00,275.25 405.13,275.27 407.26,275.29 409.39,275.31 411.52,275.33 413.65,275.35 415.78,275.37 417.90,275.39 420.03,275.41 422.16,275.43 424.29,275.45 426.42,275.47 428.55,275.49 430.68,275.51 432.81,275.53 434.94,275.55 437.07,275.57 439.20,275.59 441.33,275.61 443.46,275.63 445.59,275.65 447.72,275.67 449.84,275.69 451.97,275.71 454.10,275.73 456.23,275.75 458.36,275.77 460.49,275.79 462.62,275.81 464.75,275.83 466.88,275.85 469.01,275.87 471.14,275.89 473.27,275.91 475.40,275.93 477.53,275.95 479.66,275.97 481.78,275.99 483.91,276.01 486.04,276.03 488.17,276.05 490.30,276.07 492.43,276.09 494.56,276.10 496.69,276.12 498.82,276.14 500.95,276.16 503.08,276.18 505.21,276.20" stroke="#333" stroke-width="1.05" fill="none" stroke-linejoin="round" />
<polyline points="338.80,287.60 339.44,287.39 340.09,287.17 340.73,286.96 341.38,286.75 342.02,286.54 342.66,286.33 343.31,286.12 343.95,285.92 344.60,285.71 345.24,285.50 345.89,285.30 346.53,285.09 347.17,284.89 347.82,284.69 348.46,284.49 349.11,284.29 349.75,284.09 350.39,283.89 351.04,283.69 351.68,283.49 352.33,283.29 352.97,283.10 353.61,282.90 354.26,282.71 354.90,282.51 355.55,282.32 356.19,282.13 356.84,281.94 357.48,281.75 358.12,281.56 358.77,281.37 359.41,281.18 360.06,280.99 360.70,280.80 361.34,280.62 361.99,280.43 362.63,280.25 363.28,280.06 363.92,279.88 364.56,279.70 365.21,279.52 365.85,279.34 366.50,279.16 367.14,278.98 367.79,278.80 368.43,278.62 369.07,278.44 369.72,278.26 370.36,278.09 371.01,277.91 371.65,277.74 372.29,277.57 372.94,277.39 373.58,277.22 374.23,277.05 374.87,276.88 375.52,276.71 376.16,276.54 376.80,276.37 377.45,276.20 379.58,276.22 381.71,276.23 383.84,276.25 385.96,276.27 388.09,276.29 390.22,276.30 392.35,276.32 394.48,276.34 396.61,276.36 398.74,276.37 400.87,276.39 403.00,276.41 405.13,276.42 407.26,276.44 409.39,276.46 411.52,276.48 413.65,276.49 415.78,276.51 417.90,276.53 420.03,276.54 422.16,276.56 424.29,276.58 426.42,276.59 428.55,276.61 430.68,276.63 432.81,276.64 434.94,276.66 437.07,276.68 439.20,276.69 441.33,276.71 443.46,276.73 445.59,276.74 447.72,276.76 449.84,276.78 451.97,276.79 454.10,276.81 456.23,276.83 458.36,276.84 460.49,276.86 462.62,276.88 464.75,276.89 466.88,276.91 469.01,276.93 471.14,276.94 473.27,276.96 475.40,276.97 477.53,276.99 479.66,277.01 481.78,277.02 483.91,277.04 486.04,277.06 488.17,277.07 490.30,277.09 492.43,277.10 494.56,277.12 496.69,277.14 498.82,277.15 500.95,277.17 503.08,277.18 505.21,277.20" stroke="#5070b0" stroke-width="0.8" fill="none" stroke-linejoin="round" />
<polyline points="338.80,288.20 339.44,287.99 340.09,287.77 340.73,287.56 341.38,287.35 342.02,287.14 342.66,286.93 343.31,286.72 343.95,286.52 344.60,286.31 345.24,286.10 345.89,285.90 346.53,285.69 347.17,285.49 347.82,285.29 348.46,285.09 349.11,284.89 349.75,284.69 350.39,284.49 351.04,284.29 351.68,284.09 352.33,283.89 352.97,283.70 353.61,283.50 354.26,283.31 354.90,283.11 355.55,282.92 356.19,282.73 356.84,282.54 357.48,282.35 358.12,282.16 358.77,281.97 359.41,281.78 360.06,281.59 360.70,281.40 361.34,281.22 361.99,281.03 362.63,280.85 363.28,280.66 363.92,280.48 364.56,280.30 365.21,280.12 365.85,279.94 366.50,279.76 367.14,279.58 367.79,279.40 368.43,279.22 369.07,279.04 369.72,278.86 370.36,278.69 371.01,278.51 371.65,278.34 372.29,278.17 372.94,277.99 373.58,277.82 374.23,277.65 374.87,277.48 375.52,277.31 376.16,277.14 376.80,276.97 377.45,276.80 379.58,276.82 381.71,276.83 383.84,276.85 385.96,276.87 388.09,276.89 390.22,276.90 392.35,276.92 394.48,276.94 396.61,276.96 398.74,276.97 400.87,276.99 403.00,277.01 405.13,277.02 407.26,277.04 409.39,277.06 411.52,277.08 413.65,277.09 415.78,277.11 417.90,277.13 420.03,277.14 422.16,277.16 424.29,277.18 426.42,277.19 428.55,277.21 430.68,277.23 432.81,277.24 434.94,277.26 437.07,277.28 439.20,277.29 441.33,277.31 443.46,277.33 445.59,277.34 447.72,277.36 449.84,277.38 451.97,277.39 454.10,277.41 456.23,277.43 458.36,277.44 460.49,277.46 462.62,277.48 464.75,277.49 466.88,277.51 469.01,277.53 471.14,277.54 473.27,277.56 475.40,277.57 477.53,277.59 479.66,277.61 481.78,277.62 483.91,277.64 486.04,277.66 488.17,277.67 490.30,277.69 492.43,277.70 494.56,277.72 496.69,277.74 498.82,277.75 500.95,277.77 503.08,277.78 505.21,277.80" stroke="#333" stroke-width="1.05" fill="none" stroke-linejoin="round" />
<polyline points="338.80,287.60 339.44,287.48 340.09,287.37 340.73,287.25 341.38,287.14 342.02,287.02 342.66,286.91 343.31,286.80 343.95,286.68 344.60,286.57 345.24,286.46 345.89,286.35 346.53,286.24 347.17,286.13 347.82,286.02 348.46,285.91 349.11,285.80 349.75,285.69 350.39,285.58 351.04,285.47 351.68,285.36 352.33,285.26 352.97,285.15 353.61,285.04 354.26,284.94 354.90,284.83 355.55,284.73 356.19,284.62 356.84,284.52 357.48,284.42 358.12,284.31 358.77,284.21 359.41,284.11 360.06,284.01 360.70,283.90 361.34,283.80 361.99,283.70 362.63,283.60 363.28,283.50 363.92,283.40 364.56,283.30 365.21,283.20 365.85,283.11 366.50,283.01 367.14,282.91 367.79,282.81 368.43,282.72 369.07,282.62 369.72,282.52 370.36,282.43 371.01,282.33 371.65,282.24 372.29,282.14 372.94,282.05 373.58,281.95 374.23,281.86 374.87,281.77 375.52,281.68 376.16,281.58 376.80,281.49 377.45,281.40 379.58,281.40 381.71,281.40 383.84,281.40 385.96,281.40 388.09,281.40 390.22,281.40 392.35,281.40 394.48,281.40 396.61,281.40 398.74,281.41 400.87,281.41 403.00,281.41 405.13,281.41 407.26,281.41 409.39,281.41 411.52,281.41 413.65,281.41 415.78,281.41 417.90,281.41 420.03,281.41 422.16,281.41 424.29,281.41 426.42,281.41 428.55,281.41 430.68,281.41 432.81,281.41 434.94,281.41 437.07,281.41 439.20,281.42 441.33,281.42 443.46,281.42 445.59,281.42 447.72,281.42 449.84,281.42 451.97,281.42 454.10,281.42 456.23,281.42 458.36,281.42 460.49,281.42 462.62,281.42 464.75,281.42 466.88,281.42 469.01,281.42 471.14,281.42 473.27,281.42 475.40,281.42 477.53,281.42 479.66,281.42 481.78,281.43 483.91,281.43 486.04,281.43 488.17,281.43 490.30,281.43 492.43,281.43 494.56,281.43 496.69,281.43 498.82,281.43 500.95,281.43 503.08,281.43 505.21,281.43" stroke="#60a050" stroke-width="0.8" fill="none" stroke-linejoin="round" />
<polyline points="338.80,288.20 339.44,288.08 340.09,287.97 340.73,287.85 341.38,287.74 342.02,287.62 342.66,287.51 343.31,287.40 343.95,287.28 344.60,287.17 345.24,287.06 345.89,286.95 346.53,286.84 347.17,286.73 347.82,286.62 348.46,286.51 349.11,286.40 349.75,286.29 350.39,286.18 351.04,286.07 351.68,285.96 352.33,285.86 352.97,285.75 353.61,285.64 354.26,285.54 354.90,285.43 355.55,285.33 356.19,285.22 356.84,285.12 357.48,285.02 358.12,284.91 358.77,284.81 359.41,284.71 360.06,284.61 360.70,284.50 361.34,284.40 361.99,284.30 362.63,284.20 363.28,284.10 363.92,284.00 364.56,283.90 365.21,283.80 365.85,283.71 366.50,283.61 367.14,283.51 367.79,283.41 368.43,283.32 369.07,283.22 369.72,283.12 370.36,283.03 371.01,282.93 371.65,282.84 372.29,282.74 372.94,282.65 373.58,282.55 374.23,282.46 374.87,282.37 375.52,282.28 376.16,282.18 376.80,282.09 377.45,282.00 379.58,282.00 381.71,282.00 383.84,282.00 385.96,282.00 388.09,282.00 390.22,282.00 392.35,282.00 394.48,282.00 396.61,282.00 398.74,282.01 400.87,282.01 403.00,282.01 405.13,282.01 407.26,282.01 409.39,282.01 411.52,282.01 413.65,282.01 415.78,282.01 417.90,282.01 420.03,282.01 422.16,282.01 424.29,282.01 426.42,282.01 428.55,282.01 430.68,282.01 432.81,282.01 434.94,282.01 437.07,282.01 439.20,282.02 441.33,282.02 443.46,282.02 445.59,282.02 447.72,282.02 449.84,282.02 451.97,282.02 454.10,282.02 456.23,282.02 458.36,282.02 460.49,282.02 462.62,282.02 464.75,282.02 466.88,282.02 469.01,282.02 471.14,282.02 473.27,282.02 475.40,282.02 477.53,282.02 479.66,282.02 481.78,282.03 483.91,282.03 486.04,282.03 488.17,282.03 490.30,282.03 492.43,282.03 494.56,282.03 496.69,282.03 498.82,282.03 500.95,282.03 503.08,282.03 505.21,282.03" stroke="#333" stroke-width="1.05" fill="none" stroke-linejoin="round" />
<polyline points="338.80,287.60 339.44,287.54 340.09,287.48 340.73,287.42 341.38,287.36 342.02,287.30 342.66,287.24 343.31,287.19 343.95,287.13 344.60,287.07 345.24,287.01 345.89,286.95 346.53,286.90 347.17,286.84 347.82,286.78 348.46,286.73 349.11,286.67 349.75,286.61 350.39,286.56 351.04,286.50 351.68,286.45 352.33,286.39 352.97,286.34 353.61,286.28 354.26,286.23 354.90,286.17 355.55,286.12 356.19,286.06 356.84,286.01 357.48,285.96 358.12,285.90 358.77,285.85 359.41,285.80 360.06,285.74 360.70,285.69 361.34,285.64 361.99,285.59 362.63,285.54 363.28,285.48 363.92,285.43 364.56,285.38 365.21,285.33 365.85,285.28 366.50,285.23 367.14,285.18 367.79,285.13 368.43,285.08 369.07,285.03 369.72,284.98 370.36,284.93 371.01,284.88 371.65,284.83 372.29,284.78 372.94,284.73 373.58,284.69 374.23,284.64 374.87,284.59 375.52,284.54 376.16,284.49 376.80,284.45 377.45,284.40 379.58,284.41 381.71,284.42 383.84,284.43 385.96,284.44 388.09,284.45 390.22,284.47 392.35,284.48 394.48,284.49 396.61,284.50 398.74,284.51 400.87,284.52 403.00,284.53 405.13,284.54 407.26,284.55 409.39,284.56 411.52,284.57 413.65,284.58 415.78,284.59 417.90,284.60 420.03,284.61 422.16,284.62 424.29,284.63 426.42,284.64 428.55,284.66 430.68,284.67 432.81,284.68 434.94,284.69 437.07,284.70 439.20,284.71 441.33,284.72 443.46,284.73 445.59,284.74 447.72,284.75 449.84,284.76 451.97,284.77 454.10,284.77 456.23,284.78 458.36,284.79 460.49,284.80 462.62,284.81 464.75,284.82 466.88,284.83 469.01,284.84 471.14,284.85 473.27,284.86 475.40,284.87 477.53,284.88 479.66,284.89 481.78,284.90 483.91,284.91 486.04,284.92 488.17,284.93 490.30,284.94 492.43,284.95 494.56,284.95 496.69,284.96 498.82,284.97 500.95,284.98 503.08,284.99 505.21,285.00" stroke="#e05070" stroke-width="0.8" fill="none" stroke-linejoin="round" />
<polyline points="338.80,288.20 339.44,288.14 340.09,288.08 340.73,288.02 341.38,287.96 342.02,287.90 342.66,287.84 343.31,287.79 343.95,287.73 344.60,287.67 345.24,287.61 345.89,287.55 346.53,287.50 347.17,287.44 347.82,287.38 348.46,287.33 349.11,287.27 349.75,287.21 350.39,287.16 351.04,287.10 351.68,287.05 352.33,286.99 352.97,286.94 353.61,286.88 354.26,286.83 354.90,286.77 355.55,286.72 356.19,286.66 356.84,286.61 357.48,286.56 358.12,286.50 358.77,286.45 359.41,286.40 360.06,286.34 360.70,286.29 361.34,286.24 361.99,286.19 362.63,286.14 363.28,286.08 363.92,286.03 364.56,285.98 365.21,285.93 365.85,285.88 366.50,285.83 367.14,285.78 367.79,285.73 368.43,285.68 369.07,285.63 369.72,285.58 370.36,285.53 371.01,285.48 371.65,285.43 372.29,285.38 372.94,285.33 373.58,285.29 374.23,285.24 374.87,285.19 375.52,285.14 376.16,285.09 376.80,285.05 377.45,285.00 379.58,285.01 381.71,285.02 383.84,285.03 385.96,285.04 388.09,285.05 390.22,285.07 392.35,285.08 394.48,285.09 396.61,285.10 398.74,285.11 400.87,285.12 403.00,285.13 405.13,285.14 407.26,285.15 409.39,285.16 411.52,285.17 413.65,285.18 415.78,285.19 417.90,285.20 420.03,285.21 422.16,285.22 424.29,285.23 426.42,285.24 428.55,285.26 430.68,285.27 432.81,285.28 434.94,285.29 437.07,285.30 439.20,285.31 441.33,285.32 443.46,285.33 445.59,285.34 447.72,285.35 449.84,285.36 451.97,285.37 454.10,285.37 456.23,285.38 458.36,285.39 460.49,285.40 462.62,285.41 464.75,285.42 466.88,285.43 469.01,285.44 471.14,285.45 473.27,285.46 475.40,285.47 477.53,285.48 479.66,285.49 481.78,285.50 483.91,285.51 486.04,285.52 488.17,285.53 490.30,285.54 492.43,285.55 494.56,285.55 496.69,285.56 498.82,285.57 500.95,285.58 503.08,285.59 505.21,285.60" stroke="#333" stroke-width="1.05" fill="none" stroke-linejoin="round" />
<text x="124.1" y="343.5" font-size="9" text-anchor="start" fill="#2c2c2c" font-weight="normal" textLength="47.5" lengthAdjust="spacingAndGlyphs" stroke-width="0.22"  stroke="#2c2c2c">Sonrotoclax</text>
<line x1="50.80" y1="349.00" x2="50.80" y2="478.80" stroke="#262626" stroke-width="1.45" />
<line x1="50.20" y1="478.20" x2="240.00" y2="478.20" stroke="#262626" stroke-width="1.45" />
<line x1="48.00" y1="366.30" x2="50.80" y2="366.30" stroke="#262626" stroke-width="0.9" />
<text x="44.0" y="368.7" font-size="6.8" text-anchor="end" fill="#2c2c2c" font-weight="normal"  stroke="#2c2c2c" stroke-width="0.2">100</text>
<line x1="48.00" y1="409.15" x2="50.80" y2="409.15" stroke="#262626" stroke-width="0.9" />
<text x="44.0" y="411.54999999999995" font-size="6.8" text-anchor="end" fill="#2c2c2c" font-weight="normal"  stroke="#2c2c2c" stroke-width="0.2">50</text>
<line x1="48.00" y1="452.00" x2="50.80" y2="452.00" stroke="#262626" stroke-width="0.9" />
<text x="44.0" y="454.4" font-size="6.8" text-anchor="end" fill="#2c2c2c" font-weight="normal"  stroke="#2c2c2c" stroke-width="0.2">0</text>
<line x1="50.80" y1="478.20" x2="50.80" y2="480.80" stroke="#262626" stroke-width="0.9" />
<text x="50.8" y="489.8" font-size="6.8" text-anchor="middle" fill="#2c2c2c" font-weight="normal"  stroke="#2c2c2c" stroke-width="0.2">−4</text>
<line x1="93.40" y1="478.20" x2="93.40" y2="480.80" stroke="#262626" stroke-width="0.9" />
<text x="93.4" y="489.8" font-size="6.8" text-anchor="middle" fill="#2c2c2c" font-weight="normal"  stroke="#2c2c2c" stroke-width="0.2">−2</text>
<line x1="136.00" y1="478.20" x2="136.00" y2="480.80" stroke="#262626" stroke-width="0.9" />
<text x="136.0" y="489.8" font-size="6.8" text-anchor="middle" fill="#2c2c2c" font-weight="normal"  stroke="#2c2c2c" stroke-width="0.2">0</text>
<line x1="178.60" y1="478.20" x2="178.60" y2="480.80" stroke="#262626" stroke-width="0.9" />
<text x="178.60000000000002" y="489.8" font-size="6.8" text-anchor="middle" fill="#2c2c2c" font-weight="normal"  stroke="#2c2c2c" stroke-width="0.2">2</text>
<line x1="221.20" y1="478.20" x2="221.20" y2="480.80" stroke="#262626" stroke-width="0.9" />
<text x="221.2" y="489.8" font-size="6.8" text-anchor="middle" fill="#2c2c2c" font-weight="normal"  stroke="#2c2c2c" stroke-width="0.2">4</text>
<text x="112.0" y="501.3" font-size="7.3" text-anchor="start" fill="#2c2c2c" font-weight="normal" textLength="72" lengthAdjust="spacingAndGlyphs"  stroke="#2c2c2c" stroke-width="0.2">Log concentration [nM]</text>
<text transform="translate(28.2,413.8) rotate(-90)" font-size="7.8" stroke-width="0.18" text-anchor="middle" fill="#2c2c2c" textLength="106" lengthAdjust="spacingAndGlyphs" stroke="#2c2c2c">% BCL2-BAK interaction inhibition</text>
<polyline points="65.10,453.69 66.25,453.53 67.40,453.34 68.55,453.12 69.70,452.86 70.85,452.56 72.00,452.20 73.15,451.78 74.30,451.29 75.45,450.71 76.60,450.05 77.75,449.27 78.90,448.37 80.05,447.33 81.20,446.13 82.35,444.76 83.50,443.20 84.65,441.43 85.80,439.44 86.95,437.22 88.10,434.76 89.25,432.06 90.40,429.13 91.55,425.99 92.70,422.65 93.85,419.16 95.00,415.55 96.15,411.87 97.30,408.17 98.45,404.50 99.60,400.91 100.75,397.45 101.90,394.16 103.05,391.06 104.20,388.18 105.35,385.54 106.50,383.13 107.65,380.96 108.80,379.02 109.95,377.30 111.10,375.79 112.25,374.46 113.40,373.30 114.55,372.29 115.70,371.42 116.85,370.67 118.00,370.02 119.15,369.47 120.30,368.99 121.45,368.59 122.60,368.24 123.75,367.95 124.90,367.70 126.05,367.48 127.20,367.30 128.35,367.15 129.50,367.02 130.65,366.91 131.80,366.82 132.95,366.74 134.10,366.67 135.25,366.61 136.40,366.56 137.55,366.52 138.70,366.49 139.85,366.46 141.00,366.44 142.15,366.41 143.30,366.40 144.45,366.38 145.60,366.37 146.75,366.36 147.90,366.35 149.05,366.34 150.20,366.34 151.35,366.33 152.50,366.33 153.65,366.32 154.80,366.32 155.95,366.32 157.10,366.31" stroke="#dc1473" stroke-width="0.9" fill="none" stroke-linejoin="round" />
<line x1="65.10" y1="447.20" x2="65.10" y2="461.20" stroke="#dc1473" stroke-width="0.75" />
<line x1="63.60" y1="447.20" x2="66.60" y2="447.20" stroke="#dc1473" stroke-width="0.75" />
<line x1="63.60" y1="461.20" x2="66.60" y2="461.20" stroke="#dc1473" stroke-width="0.75" />
<line x1="75.40" y1="443.00" x2="75.40" y2="458.00" stroke="#dc1473" stroke-width="0.75" />
<line x1="73.90" y1="443.00" x2="76.90" y2="443.00" stroke="#dc1473" stroke-width="0.75" />
<line x1="73.90" y1="458.00" x2="76.90" y2="458.00" stroke="#dc1473" stroke-width="0.75" />
<line x1="85.70" y1="432.90" x2="85.70" y2="440.90" stroke="#dc1473" stroke-width="0.75" />
<line x1="84.20" y1="432.90" x2="87.20" y2="432.90" stroke="#dc1473" stroke-width="0.75" />
<line x1="84.20" y1="440.90" x2="87.20" y2="440.90" stroke="#dc1473" stroke-width="0.75" />
<line x1="95.80" y1="405.10" x2="95.80" y2="420.10" stroke="#dc1473" stroke-width="0.75" />
<line x1="94.30" y1="405.10" x2="97.30" y2="405.10" stroke="#dc1473" stroke-width="0.75" />
<line x1="94.30" y1="420.10" x2="97.30" y2="420.10" stroke="#dc1473" stroke-width="0.75" />
<line x1="126.30" y1="366.20" x2="126.30" y2="372.20" stroke="#dc1473" stroke-width="0.75" />
<line x1="124.80" y1="366.20" x2="127.80" y2="366.20" stroke="#dc1473" stroke-width="0.75" />
<line x1="124.80" y1="372.20" x2="127.80" y2="372.20" stroke="#dc1473" stroke-width="0.75" />
<line x1="136.50" y1="367.60" x2="136.50" y2="375.60" stroke="#dc1473" stroke-width="0.75" />
<line x1="135.00" y1="367.60" x2="138.00" y2="367.60" stroke="#dc1473" stroke-width="0.75" />
<line x1="135.00" y1="375.60" x2="138.00" y2="375.60" stroke="#dc1473" stroke-width="0.75" />
<circle cx="65.10" cy="454.20" r="2.55" fill="#dc1473"/>
<circle cx="75.40" cy="450.50" r="2.55" fill="#dc1473"/>
<circle cx="85.70" cy="436.90" r="2.55" fill="#dc1473"/>
<circle cx="95.80" cy="412.60" r="2.55" fill="#dc1473"/>
<circle cx="105.80" cy="383.00" r="2.55" fill="#dc1473"/>
<circle cx="116.20" cy="371.50" r="2.55" fill="#dc1473"/>
<circle cx="126.30" cy="369.20" r="2.55" fill="#dc1473"/>
<circle cx="136.50" cy="371.60" r="2.55" fill="#dc1473"/>
<circle cx="146.60" cy="369.30" r="2.55" fill="#dc1473"/>
<circle cx="157.10" cy="370.10" r="2.55" fill="#dc1473"/>
<polyline points="129.20,452.00 130.35,452.00 131.50,452.00 132.65,452.00 133.80,452.00 134.95,452.00 136.10,452.00 137.25,452.00 138.40,452.00 139.55,452.00 140.70,452.00 141.85,452.00 143.00,452.00 144.15,452.00 145.30,452.00 146.45,452.00 147.60,452.00 148.75,452.00 149.90,452.00 151.05,452.00 152.20,452.00 153.35,452.00 154.50,452.00 155.65,452.00 156.80,452.00 157.95,452.00 159.10,452.00 160.25,452.00 161.40,452.00 162.55,452.00 163.70,452.00 164.85,452.00 166.00,452.00 167.15,452.00 168.30,452.00 169.45,452.00 170.60,452.00 171.75,452.00 172.90,452.00 174.05,452.00 175.20,452.00 176.35,452.00 177.50,452.00 178.65,452.00 179.80,452.00 180.95,452.00 182.10,452.00 183.25,452.00 184.40,452.00 185.55,452.00 186.70,452.00 187.85,452.00 189.00,452.00 190.15,452.00 191.30,452.00 192.45,452.00 193.60,452.00 194.75,452.00 195.90,452.00 197.05,452.00 198.20,452.00 199.35,452.00 200.50,451.99 201.65,451.99 202.80,451.98 203.95,451.96 205.10,451.94 206.25,451.90 207.40,451.84 208.55,451.75 209.70,451.59 210.85,451.35 212.00,450.99 213.15,450.46 214.30,449.74 215.45,448.85 216.60,447.85 217.75,446.87 218.90,446.00 220.05,445.31 221.20,444.81" stroke="#1e6b5c" stroke-width="0.9" fill="none" stroke-linejoin="round" />
<line x1="139.60" y1="446.30" x2="139.60" y2="453.30" stroke="#1e6b5c" stroke-width="0.75" />
<line x1="138.10" y1="446.30" x2="141.10" y2="446.30" stroke="#1e6b5c" stroke-width="0.75" />
<line x1="138.10" y1="453.30" x2="141.10" y2="453.30" stroke="#1e6b5c" stroke-width="0.75" />
<line x1="159.20" y1="450.00" x2="159.20" y2="454.00" stroke="#1e6b5c" stroke-width="0.75" />
<line x1="157.70" y1="450.00" x2="160.70" y2="450.00" stroke="#1e6b5c" stroke-width="0.75" />
<line x1="157.70" y1="454.00" x2="160.70" y2="454.00" stroke="#1e6b5c" stroke-width="0.75" />
<line x1="180.40" y1="445.80" x2="180.40" y2="453.80" stroke="#1e6b5c" stroke-width="0.75" />
<line x1="178.90" y1="445.80" x2="181.90" y2="445.80" stroke="#1e6b5c" stroke-width="0.75" />
<line x1="178.90" y1="453.80" x2="181.90" y2="453.80" stroke="#1e6b5c" stroke-width="0.75" />
<line x1="190.50" y1="449.50" x2="190.50" y2="455.50" stroke="#1e6b5c" stroke-width="0.75" />
<line x1="189.00" y1="449.50" x2="192.00" y2="449.50" stroke="#1e6b5c" stroke-width="0.75" />
<line x1="189.00" y1="455.50" x2="192.00" y2="455.50" stroke="#1e6b5c" stroke-width="0.75" />
<line x1="200.60" y1="452.60" x2="200.60" y2="458.60" stroke="#1e6b5c" stroke-width="0.75" />
<line x1="199.10" y1="452.60" x2="202.10" y2="452.60" stroke="#1e6b5c" stroke-width="0.75" />
<line x1="199.10" y1="458.60" x2="202.10" y2="458.60" stroke="#1e6b5c" stroke-width="0.75" />
<line x1="210.60" y1="443.00" x2="210.60" y2="459.00" stroke="#1e6b5c" stroke-width="0.75" />
<line x1="209.10" y1="443.00" x2="212.10" y2="443.00" stroke="#1e6b5c" stroke-width="0.75" />
<line x1="209.10" y1="459.00" x2="212.10" y2="459.00" stroke="#1e6b5c" stroke-width="0.75" />
<rect x="126.75" y="450.25" width="4.9" height="4.9" fill="#1e6b5c"/>
<rect x="137.15" y="447.35" width="4.9" height="4.9" fill="#1e6b5c"/>
<rect x="146.95" y="449.65" width="4.9" height="4.9" fill="#1e6b5c"/>
<rect x="156.75" y="449.55" width="4.9" height="4.9" fill="#1e6b5c"/>
<rect x="168.15" y="447.95" width="4.9" height="4.9" fill="#1e6b5c"/>
<rect x="177.95" y="447.35" width="4.9" height="4.9" fill="#1e6b5c"/>
<rect x="188.05" y="450.05" width="4.9" height="4.9" fill="#1e6b5c"/>
<rect x="198.15" y="453.15" width="4.9" height="4.9" fill="#1e6b5c"/>
<rect x="208.15" y="448.55" width="4.9" height="4.9" fill="#1e6b5c"/>
<rect x="218.85" y="442.05" width="4.9" height="4.9" fill="#1e6b5c"/>
<polyline points="125.00,444.72 126.20,444.72 127.41,444.72 128.61,444.72 129.81,444.72 131.02,444.72 132.22,444.72 133.43,444.72 134.63,444.72 135.83,444.72 137.04,444.72 138.24,444.72 139.44,444.72 140.65,444.72 141.85,444.72 143.06,444.72 144.26,444.72 145.46,444.72 146.67,444.72 147.87,444.72 149.07,444.72 150.28,444.72 151.48,444.72 152.69,444.71 153.89,444.71 155.09,444.71 156.30,444.71 157.50,444.71 158.70,444.71 159.91,444.71 161.11,444.71 162.32,444.71 163.52,444.71 164.72,444.71 165.93,444.71 167.13,444.71 168.33,444.71 169.54,444.71 170.74,444.71 171.95,444.71 173.15,444.71 174.35,444.71 175.56,444.71 176.76,444.71 177.96,444.71 179.17,444.71 180.37,444.71 181.58,444.71 182.78,444.70 183.98,444.70 185.19,444.70 186.39,444.70 187.59,444.70 188.80,444.70 190.00,444.69 191.21,444.69 192.41,444.69 193.61,444.69 194.82,444.68 196.02,444.68 197.23,444.68 198.43,444.68 199.63,444.67 200.84,444.67 202.04,444.67 203.24,444.66 204.45,444.66 205.65,444.66 206.86,444.66 208.06,444.65 209.26,444.65 210.47,444.65 211.67,444.65 212.87,444.65 214.08,444.65 215.28,444.64 216.48,444.64 217.69,444.64 218.89,444.64 220.10,444.64 221.30,444.64" stroke="#5b2468" stroke-width="0.9" fill="none" stroke-linejoin="round" />
<line x1="180.40" y1="441.60" x2="180.40" y2="447.60" stroke="#5b2468" stroke-width="0.75" />
<line x1="178.90" y1="441.60" x2="181.90" y2="441.60" stroke="#5b2468" stroke-width="0.75" />
<line x1="178.90" y1="447.60" x2="181.90" y2="447.60" stroke="#5b2468" stroke-width="0.75" />
<line x1="210.60" y1="445.00" x2="210.60" y2="451.00" stroke="#5b2468" stroke-width="0.75" />
<line x1="209.10" y1="445.00" x2="212.10" y2="445.00" stroke="#5b2468" stroke-width="0.75" />
<line x1="209.10" y1="451.00" x2="212.10" y2="451.00" stroke="#5b2468" stroke-width="0.75" />
<line x1="221.30" y1="439.50" x2="221.30" y2="447.50" stroke="#5b2468" stroke-width="0.75" />
<line x1="219.80" y1="439.50" x2="222.80" y2="439.50" stroke="#5b2468" stroke-width="0.75" />
<line x1="219.80" y1="447.50" x2="222.80" y2="447.50" stroke="#5b2468" stroke-width="0.75" />
<circle cx="129.20" cy="445.00" r="2.55" fill="#5b2468"/>
<circle cx="139.60" cy="444.80" r="2.55" fill="#5b2468"/>
<circle cx="149.40" cy="444.40" r="2.55" fill="#5b2468"/>
<circle cx="159.20" cy="447.50" r="2.55" fill="#5b2468"/>
<circle cx="170.60" cy="444.60" r="2.55" fill="#5b2468"/>
<circle cx="180.40" cy="444.60" r="2.55" fill="#5b2468"/>
<circle cx="190.50" cy="445.20" r="2.55" fill="#5b2468"/>
<circle cx="200.60" cy="444.60" r="2.55" fill="#5b2468"/>
<circle cx="210.60" cy="448.00" r="2.55" fill="#5b2468"/>
<circle cx="221.30" cy="443.50" r="2.55" fill="#5b2468"/>
<polyline points="175.00,445.55 175.58,445.38 176.16,445.19 176.73,445.00 177.31,444.78 177.89,444.56 178.47,444.31 179.04,444.05 179.62,443.77 180.20,443.47 180.77,443.14 181.35,442.80 181.93,442.42 182.51,442.03 183.08,441.60 183.66,441.15 184.24,440.67 184.82,440.16 185.39,439.61 185.97,439.03 186.55,438.41 187.13,437.76 187.70,437.06 188.28,436.33 188.86,435.56 189.44,434.74 190.01,433.89 190.59,432.99 191.17,432.04 191.75,431.05 192.32,430.02 192.90,428.95 193.48,427.83 194.06,426.67 194.63,425.47 195.21,424.24 195.79,422.96 196.37,421.66 196.94,420.32 197.52,418.95 198.10,417.56 198.68,416.15 199.25,414.72 199.83,413.28 200.41,411.83 200.99,410.38 201.56,408.93 202.14,407.48 202.72,406.04 203.30,404.61 203.88,403.20 204.45,401.81 205.03,400.45 205.61,399.11 206.19,397.81 206.76,396.54 207.34,395.30 207.92,394.11 208.50,392.95 209.07,391.84 209.65,390.77 210.23,389.74 210.80,388.75 211.38,387.81 211.96,386.92 212.54,386.06 213.11,385.25 213.69,384.48 214.27,383.75 214.85,383.06 215.42,382.41 216.00,381.80 216.58,381.22 217.16,380.67 217.73,380.16 218.31,379.68 218.89,379.23 219.47,378.81 220.04,378.42 220.62,378.05 221.20,377.70" stroke="#1d4b87" stroke-width="0.9" fill="none" stroke-linejoin="round" />
<line x1="159.20" y1="452.20" x2="159.20" y2="460.20" stroke="#1d4b87" stroke-width="0.75" />
<line x1="157.70" y1="452.20" x2="160.70" y2="452.20" stroke="#1d4b87" stroke-width="0.75" />
<line x1="157.70" y1="460.20" x2="160.70" y2="460.20" stroke="#1d4b87" stroke-width="0.75" />
<line x1="190.80" y1="423.60" x2="190.80" y2="443.60" stroke="#1d4b87" stroke-width="0.75" />
<line x1="189.30" y1="423.60" x2="192.30" y2="423.60" stroke="#1d4b87" stroke-width="0.75" />
<line x1="189.30" y1="443.60" x2="192.30" y2="443.60" stroke="#1d4b87" stroke-width="0.75" />
<polygon points="129.20,446.80 132.40,450.00 129.20,453.20 126.00,450.00" fill="#1d4b87"/>
<polygon points="139.60,446.30 142.80,449.50 139.60,452.70 136.40,449.50" fill="#1d4b87"/>
<polygon points="149.40,453.00 152.60,456.20 149.40,459.40 146.20,456.20" fill="#1d4b87"/>
<polygon points="159.20,453.00 162.40,456.20 159.20,459.40 156.00,456.20" fill="#1d4b87"/>
<polygon points="170.60,446.60 173.80,449.80 170.60,453.00 167.40,449.80" fill="#1d4b87"/>
<polygon points="180.40,444.30 183.60,447.50 180.40,450.70 177.20,447.50" fill="#1d4b87"/>
<polygon points="190.80,430.40 194.00,433.60 190.80,436.80 187.60,433.60" fill="#1d4b87"/>
<polygon points="200.80,413.80 204.00,417.00 200.80,420.20 197.60,417.00" fill="#1d4b87"/>
<polygon points="210.80,388.40 214.00,391.60 210.80,394.80 207.60,391.60" fill="#1d4b87"/>
<polygon points="221.20,378.40 224.40,381.60 221.20,384.80 218.00,381.60" fill="#1d4b87"/>
<polyline points="129.20,448.42 130.35,448.28 131.50,448.11 132.65,447.92 133.80,447.70 134.95,447.45 136.10,447.17 137.25,446.85 138.40,446.49 139.55,446.08 140.70,445.61 141.85,445.08 143.00,444.48 144.15,443.80 145.30,443.04 146.45,442.18 147.60,441.22 148.75,440.15 149.90,438.96 151.05,437.65 152.20,436.19 153.35,434.60 154.50,432.86 155.65,430.96 156.80,428.92 157.95,426.73 159.10,424.40 160.25,421.94 161.40,419.37 162.55,416.69 163.70,413.93 164.85,411.11 166.00,408.26 167.15,405.41 168.30,402.57 169.45,399.79 170.60,397.07 171.75,394.45 172.90,391.93 174.05,389.55 175.20,387.30 176.35,385.19 177.50,383.23 178.65,381.43 179.80,379.77 180.95,378.26 182.10,376.88 183.25,375.64 184.40,374.52 185.55,373.52 186.70,372.62 187.85,371.82 189.00,371.11 190.15,370.47 191.30,369.91 192.45,369.42 193.60,368.98 194.75,368.60 195.90,368.26 197.05,367.96 198.20,367.70 199.35,367.47 200.50,367.27 201.65,367.09 202.80,366.94 203.95,366.80 205.10,366.69 206.25,366.58 207.40,366.49 208.55,366.41 209.70,366.35 210.85,366.28 212.00,366.23 213.15,366.19 214.30,366.15 215.45,366.11 216.60,366.08 217.75,366.05 218.90,366.03 220.05,366.01 221.20,365.99" stroke="#f0941c" stroke-width="0.9" fill="none" stroke-linejoin="round" />
<line x1="129.20" y1="444.80" x2="129.20" y2="450.80" stroke="#f0941c" stroke-width="0.75" />
<line x1="127.70" y1="444.80" x2="130.70" y2="444.80" stroke="#f0941c" stroke-width="0.75" />
<line x1="127.70" y1="450.80" x2="130.70" y2="450.80" stroke="#f0941c" stroke-width="0.75" />
<line x1="139.60" y1="437.50" x2="139.60" y2="449.50" stroke="#f0941c" stroke-width="0.75" />
<line x1="138.10" y1="437.50" x2="141.10" y2="437.50" stroke="#f0941c" stroke-width="0.75" />
<line x1="138.10" y1="449.50" x2="141.10" y2="449.50" stroke="#f0941c" stroke-width="0.75" />
<line x1="149.40" y1="431.70" x2="149.40" y2="443.70" stroke="#f0941c" stroke-width="0.75" />
<line x1="147.90" y1="431.70" x2="150.90" y2="431.70" stroke="#f0941c" stroke-width="0.75" />
<line x1="147.90" y1="443.70" x2="150.90" y2="443.70" stroke="#f0941c" stroke-width="0.75" />
<line x1="170.00" y1="403.00" x2="170.00" y2="407.00" stroke="#f0941c" stroke-width="0.75" />
<line x1="168.50" y1="403.00" x2="171.50" y2="403.00" stroke="#f0941c" stroke-width="0.75" />
<line x1="168.50" y1="407.00" x2="171.50" y2="407.00" stroke="#f0941c" stroke-width="0.75" />
<line x1="180.50" y1="380.50" x2="180.50" y2="386.50" stroke="#f0941c" stroke-width="0.75" />
<line x1="179.00" y1="380.50" x2="182.00" y2="380.50" stroke="#f0941c" stroke-width="0.75" />
<line x1="179.00" y1="386.50" x2="182.00" y2="386.50" stroke="#f0941c" stroke-width="0.75" />
<rect x="126.75" y="445.35" width="4.9" height="4.9" fill="#f0941c"/>
<rect x="137.15" y="441.05" width="4.9" height="4.9" fill="#f0941c"/>
<rect x="146.95" y="435.25" width="4.9" height="4.9" fill="#f0941c"/>
<rect x="157.55" y="416.35" width="4.9" height="4.9" fill="#f0941c"/>
<rect x="167.55" y="402.55" width="4.9" height="4.9" fill="#f0941c"/>
<rect x="178.05" y="381.05" width="4.9" height="4.9" fill="#f0941c"/>
<rect x="188.05" y="372.85" width="4.9" height="4.9" fill="#f0941c"/>
<rect x="198.35" y="366.35" width="4.9" height="4.9" fill="#f0941c"/>
<rect x="208.35" y="364.35" width="4.9" height="4.9" fill="#f0941c"/>
<rect x="218.75" y="365.35" width="4.9" height="4.9" fill="#f0941c"/>
<line x1="101.50" y1="409.20" x2="161.60" y2="409.20" stroke="#111" stroke-width="0.9" />
<polygon points="98.50,409.2 102.70,407.2 102.70,411.2" fill="#111"/>
<polygon points="164.60,409.2 160.40,407.2 160.40,411.2" fill="#111"/>
<text x="131.5" y="406.0" font-size="6.4" fill="#222" text-anchor="middle" stroke="#222" stroke-width="0.2">2000 X</text>
<text x="393.5" y="343.5" font-size="9" text-anchor="start" fill="#2c2c2c" font-weight="normal" textLength="44.4" lengthAdjust="spacingAndGlyphs" stroke-width="0.22"  stroke="#2c2c2c">Venetoclax</text>
<line x1="318.80" y1="349.00" x2="318.80" y2="478.80" stroke="#262626" stroke-width="1.45" />
<line x1="318.20" y1="478.20" x2="507.00" y2="478.20" stroke="#262626" stroke-width="1.45" />
<line x1="316.00" y1="366.50" x2="318.80" y2="366.50" stroke="#262626" stroke-width="0.9" />
<text x="312.0" y="368.9" font-size="6.8" text-anchor="end" fill="#2c2c2c" font-weight="normal"  stroke="#2c2c2c" stroke-width="0.2">100</text>
<line x1="316.00" y1="409.35" x2="318.80" y2="409.35" stroke="#262626" stroke-width="0.9" />
<text x="312.0" y="411.74999999999994" font-size="6.8" text-anchor="end" fill="#2c2c2c" font-weight="normal"  stroke="#2c2c2c" stroke-width="0.2">50</text>
<line x1="316.00" y1="452.20" x2="318.80" y2="452.20" stroke="#262626" stroke-width="0.9" />
<text x="312.0" y="454.59999999999997" font-size="6.8" text-anchor="end" fill="#2c2c2c" font-weight="normal"  stroke="#2c2c2c" stroke-width="0.2">0</text>
<line x1="318.80" y1="478.20" x2="318.80" y2="480.80" stroke="#262626" stroke-width="0.9" />
<text x="318.8" y="489.8" font-size="6.8" text-anchor="middle" fill="#2c2c2c" font-weight="normal"  stroke="#2c2c2c" stroke-width="0.2">−4</text>
<line x1="361.50" y1="478.20" x2="361.50" y2="480.80" stroke="#262626" stroke-width="0.9" />
<text x="361.5" y="489.8" font-size="6.8" text-anchor="middle" fill="#2c2c2c" font-weight="normal"  stroke="#2c2c2c" stroke-width="0.2">−2</text>
<line x1="404.20" y1="478.20" x2="404.20" y2="480.80" stroke="#262626" stroke-width="0.9" />
<text x="404.20000000000005" y="489.8" font-size="6.8" text-anchor="middle" fill="#2c2c2c" font-weight="normal"  stroke="#2c2c2c" stroke-width="0.2">0</text>
<line x1="446.90" y1="478.20" x2="446.90" y2="480.80" stroke="#262626" stroke-width="0.9" />
<text x="446.90000000000003" y="489.8" font-size="6.8" text-anchor="middle" fill="#2c2c2c" font-weight="normal"  stroke="#2c2c2c" stroke-width="0.2">2</text>
<line x1="489.60" y1="478.20" x2="489.60" y2="480.80" stroke="#262626" stroke-width="0.9" />
<text x="489.6" y="489.8" font-size="6.8" text-anchor="middle" fill="#2c2c2c" font-weight="normal"  stroke="#2c2c2c" stroke-width="0.2">4</text>
<text x="380.20000000000005" y="501.3" font-size="7.3" text-anchor="start" fill="#2c2c2c" font-weight="normal" textLength="72" lengthAdjust="spacingAndGlyphs"  stroke="#2c2c2c" stroke-width="0.2">Log concentration [nM]</text>
<text transform="translate(296.8,413.8) rotate(-90)" font-size="7.8" stroke-width="0.18" text-anchor="middle" fill="#2c2c2c" textLength="106" lengthAdjust="spacingAndGlyphs" stroke="#2c2c2c">% BCL2-BAK interaction inhibition</text>
<polyline points="355.50,444.04 356.65,443.89 357.79,443.73 358.94,443.53 360.08,443.30 361.23,443.04 362.38,442.74 363.52,442.38 364.67,441.98 365.82,441.51 366.96,440.96 368.11,440.34 369.25,439.63 370.40,438.81 371.55,437.88 372.69,436.83 373.84,435.64 374.99,434.29 376.13,432.79 377.28,431.12 378.43,429.26 379.57,427.23 380.72,425.02 381.86,422.63 383.01,420.07 384.16,417.36 385.30,414.52 386.45,411.58 387.60,408.57 388.74,405.51 389.89,402.45 391.03,399.43 392.18,396.47 393.33,393.62 394.47,390.89 395.62,388.31 396.76,385.89 397.91,383.65 399.06,381.59 400.20,379.71 401.35,378.01 402.50,376.48 403.64,375.12 404.79,373.90 405.94,372.83 407.08,371.88 408.23,371.05 409.37,370.32 410.52,369.68 411.67,369.13 412.81,368.65 413.96,368.23 415.11,367.87 416.25,367.56 417.40,367.29 418.54,367.06 419.69,366.86 420.84,366.69 421.98,366.54 423.13,366.41 424.27,366.30 425.42,366.21 426.57,366.13 427.71,366.06 428.86,366.00 430.01,365.95 431.15,365.91 432.30,365.87 433.44,365.84 434.59,365.81 435.74,365.78 436.88,365.76 438.03,365.75 439.18,365.73 440.32,365.72 441.47,365.71 442.62,365.70 443.76,365.69 444.91,365.68 446.05,365.68 447.20,365.67" stroke="#dc1473" stroke-width="0.9" fill="none" stroke-linejoin="round" />
<line x1="365.40" y1="439.90" x2="365.40" y2="447.90" stroke="#dc1473" stroke-width="0.75" />
<line x1="363.90" y1="439.90" x2="366.90" y2="439.90" stroke="#dc1473" stroke-width="0.75" />
<line x1="363.90" y1="447.90" x2="366.90" y2="447.90" stroke="#dc1473" stroke-width="0.75" />
<line x1="396.20" y1="388.50" x2="396.20" y2="393.50" stroke="#dc1473" stroke-width="0.75" />
<line x1="394.70" y1="388.50" x2="397.70" y2="388.50" stroke="#dc1473" stroke-width="0.75" />
<line x1="394.70" y1="393.50" x2="397.70" y2="393.50" stroke="#dc1473" stroke-width="0.75" />
<line x1="406.30" y1="371.20" x2="406.30" y2="377.20" stroke="#dc1473" stroke-width="0.75" />
<line x1="404.80" y1="371.20" x2="407.80" y2="371.20" stroke="#dc1473" stroke-width="0.75" />
<line x1="404.80" y1="377.20" x2="407.80" y2="377.20" stroke="#dc1473" stroke-width="0.75" />
<circle cx="355.50" cy="444.30" r="2.55" fill="#dc1473"/>
<circle cx="365.40" cy="443.90" r="2.55" fill="#dc1473"/>
<circle cx="376.00" cy="431.60" r="2.55" fill="#dc1473"/>
<circle cx="385.80" cy="414.60" r="2.55" fill="#dc1473"/>
<circle cx="396.20" cy="391.00" r="2.55" fill="#dc1473"/>
<circle cx="406.30" cy="374.20" r="2.55" fill="#dc1473"/>
<circle cx="416.50" cy="369.80" r="2.55" fill="#dc1473"/>
<circle cx="426.50" cy="368.50" r="2.55" fill="#dc1473"/>
<circle cx="436.90" cy="364.50" r="2.55" fill="#dc1473"/>
<circle cx="447.20" cy="366.10" r="2.55" fill="#dc1473"/>
<polyline points="398.00,445.93 399.15,445.89 400.30,445.84 401.45,445.79 402.60,445.73 403.75,445.66 404.90,445.59 406.05,445.50 407.20,445.39 408.35,445.28 409.50,445.14 410.65,444.99 411.80,444.82 412.95,444.62 414.10,444.40 415.25,444.14 416.40,443.85 417.55,443.51 418.70,443.14 419.85,442.71 421.00,442.22 422.15,441.67 423.30,441.05 424.45,440.36 425.60,439.57 426.75,438.70 427.90,437.72 429.05,436.62 430.20,435.41 431.35,434.08 432.50,432.61 433.65,431.00 434.80,429.25 435.95,427.36 437.10,425.33 438.25,423.16 439.40,420.86 440.55,418.44 441.70,415.93 442.85,413.33 444.00,410.67 445.15,407.96 446.30,405.25 447.45,402.54 448.60,399.87 449.75,397.25 450.90,394.72 452.05,392.29 453.20,389.97 454.35,387.77 455.50,385.71 456.65,383.79 457.80,382.02 458.95,380.38 460.10,378.89 461.25,377.53 462.40,376.29 463.55,375.18 464.70,374.18 465.85,373.28 467.00,372.48 468.15,371.77 469.30,371.14 470.45,370.58 471.60,370.08 472.75,369.64 473.90,369.25 475.05,368.91 476.20,368.61 477.35,368.35 478.50,368.12 479.65,367.92 480.80,367.74 481.95,367.58 483.10,367.45 484.25,367.33 485.40,367.22 486.55,367.13 487.70,367.05 488.85,366.98 490.00,366.92" stroke="#f0941c" stroke-width="0.9" fill="none" stroke-linejoin="round" />
<line x1="398.00" y1="444.30" x2="398.00" y2="458.30" stroke="#f0941c" stroke-width="0.75" />
<line x1="396.50" y1="444.30" x2="399.50" y2="444.30" stroke="#f0941c" stroke-width="0.75" />
<line x1="396.50" y1="458.30" x2="399.50" y2="458.30" stroke="#f0941c" stroke-width="0.75" />
<line x1="408.40" y1="442.00" x2="408.40" y2="456.00" stroke="#f0941c" stroke-width="0.75" />
<line x1="406.90" y1="442.00" x2="409.90" y2="442.00" stroke="#f0941c" stroke-width="0.75" />
<line x1="406.90" y1="456.00" x2="409.90" y2="456.00" stroke="#f0941c" stroke-width="0.75" />
<line x1="438.90" y1="417.20" x2="438.90" y2="429.20" stroke="#f0941c" stroke-width="0.75" />
<line x1="437.40" y1="417.20" x2="440.40" y2="417.20" stroke="#f0941c" stroke-width="0.75" />
<line x1="437.40" y1="429.20" x2="440.40" y2="429.20" stroke="#f0941c" stroke-width="0.75" />
<line x1="448.80" y1="390.80" x2="448.80" y2="400.80" stroke="#f0941c" stroke-width="0.75" />
<line x1="447.30" y1="390.80" x2="450.30" y2="390.80" stroke="#f0941c" stroke-width="0.75" />
<line x1="447.30" y1="400.80" x2="450.30" y2="400.80" stroke="#f0941c" stroke-width="0.75" />
<rect x="395.55" y="448.85" width="4.9" height="4.9" fill="#f0941c"/>
<rect x="405.95" y="446.55" width="4.9" height="4.9" fill="#f0941c"/>
<rect x="415.65" y="439.75" width="4.9" height="4.9" fill="#f0941c"/>
<rect x="426.25" y="438.05" width="4.9" height="4.9" fill="#f0941c"/>
<rect x="436.45" y="420.75" width="4.9" height="4.9" fill="#f0941c"/>
<rect x="446.35" y="393.35" width="4.9" height="4.9" fill="#f0941c"/>
<rect x="456.75" y="379.75" width="4.9" height="4.9" fill="#f0941c"/>
<rect x="467.05" y="369.95" width="4.9" height="4.9" fill="#f0941c"/>
<rect x="477.05" y="366.75" width="4.9" height="4.9" fill="#f0941c"/>
<rect x="487.55" y="365.65" width="4.9" height="4.9" fill="#f0941c"/>
<polyline points="398.00,456.06 399.15,456.06 400.30,456.06 401.45,456.06 402.60,456.06 403.75,456.06 404.90,456.06 406.05,456.06 407.20,456.06 408.35,456.06 409.50,456.06 410.65,456.06 411.80,456.06 412.95,456.06 414.10,456.06 415.25,456.06 416.40,456.06 417.55,456.06 418.70,456.06 419.85,456.06 421.00,456.06 422.15,456.06 423.30,456.06 424.45,456.06 425.60,456.06 426.75,456.06 427.90,456.06 429.05,456.06 430.20,456.06 431.35,456.06 432.50,456.06 433.65,456.06 434.80,456.06 435.95,456.06 437.10,456.06 438.25,456.06 439.40,456.06 440.55,456.06 441.70,456.06 442.85,456.06 444.00,456.06 445.15,456.06 446.30,456.06 447.45,456.06 448.60,456.06 449.75,456.06 450.90,456.06 452.05,456.06 453.20,456.06 454.35,456.06 455.50,456.06 456.65,456.06 457.80,456.06 458.95,456.06 460.10,456.06 461.25,456.06 462.40,456.06 463.55,456.06 464.70,456.06 465.85,456.06 467.00,456.06 468.15,456.06 469.30,456.06 470.45,456.06 471.60,456.06 472.75,456.06 473.90,456.06 475.05,456.06 476.20,456.06 477.35,456.06 478.50,456.06 479.65,456.06 480.80,456.06 481.95,456.06 483.10,456.06 484.25,456.06 485.40,456.06 486.55,456.06 487.70,456.06 488.85,456.06 490.00,456.06" stroke="#1e6b5c" stroke-width="0.9" fill="none" stroke-linejoin="round" />
<line x1="428.70" y1="455.00" x2="428.70" y2="463.00" stroke="#1e6b5c" stroke-width="0.75" />
<line x1="427.20" y1="455.00" x2="430.20" y2="455.00" stroke="#1e6b5c" stroke-width="0.75" />
<line x1="427.20" y1="463.00" x2="430.20" y2="463.00" stroke="#1e6b5c" stroke-width="0.75" />
<line x1="449.20" y1="449.30" x2="449.20" y2="473.30" stroke="#1e6b5c" stroke-width="0.75" />
<line x1="447.70" y1="449.30" x2="450.70" y2="449.30" stroke="#1e6b5c" stroke-width="0.75" />
<line x1="447.70" y1="473.30" x2="450.70" y2="473.30" stroke="#1e6b5c" stroke-width="0.75" />
<line x1="489.40" y1="452.00" x2="489.40" y2="458.00" stroke="#1e6b5c" stroke-width="0.75" />
<line x1="487.90" y1="452.00" x2="490.90" y2="452.00" stroke="#1e6b5c" stroke-width="0.75" />
<line x1="487.90" y1="458.00" x2="490.90" y2="458.00" stroke="#1e6b5c" stroke-width="0.75" />
<rect x="395.55" y="455.25" width="4.9" height="4.9" fill="#1e6b5c"/>
<rect x="405.95" y="453.55" width="4.9" height="4.9" fill="#1e6b5c"/>
<rect x="415.65" y="453.75" width="4.9" height="4.9" fill="#1e6b5c"/>
<rect x="426.25" y="456.55" width="4.9" height="4.9" fill="#1e6b5c"/>
<rect x="436.25" y="454.15" width="4.9" height="4.9" fill="#1e6b5c"/>
<rect x="446.75" y="458.85" width="4.9" height="4.9" fill="#1e6b5c"/>
<rect x="456.95" y="453.95" width="4.9" height="4.9" fill="#1e6b5c"/>
<rect x="467.55" y="454.15" width="4.9" height="4.9" fill="#1e6b5c"/>
<rect x="477.45" y="453.55" width="4.9" height="4.9" fill="#1e6b5c"/>
<rect x="486.95" y="452.55" width="4.9" height="4.9" fill="#1e6b5c"/>
<polyline points="398.00,453.91 399.15,453.91 400.30,453.91 401.45,453.91 402.60,453.91 403.75,453.91 404.90,453.91 406.05,453.91 407.20,453.91 408.35,453.91 409.50,453.91 410.65,453.91 411.80,453.91 412.95,453.91 414.10,453.91 415.25,453.91 416.40,453.91 417.55,453.91 418.70,453.91 419.85,453.91 421.00,453.91 422.15,453.91 423.30,453.91 424.45,453.91 425.60,453.91 426.75,453.91 427.90,453.91 429.05,453.91 430.20,453.91 431.35,453.91 432.50,453.91 433.65,453.91 434.80,453.91 435.95,453.91 437.10,453.91 438.25,453.91 439.40,453.91 440.55,453.91 441.70,453.91 442.85,453.91 444.00,453.91 445.15,453.91 446.30,453.91 447.45,453.91 448.60,453.91 449.75,453.91 450.90,453.91 452.05,453.91 453.20,453.91 454.35,453.91 455.50,453.91 456.65,453.91 457.80,453.91 458.95,453.91 460.10,453.91 461.25,453.91 462.40,453.91 463.55,453.91 464.70,453.91 465.85,453.91 467.00,453.91 468.15,453.91 469.30,453.91 470.45,453.91 471.60,453.91 472.75,453.91 473.90,453.91 475.05,453.91 476.20,453.91 477.35,453.91 478.50,453.91 479.65,453.91 480.80,453.91 481.95,453.91 483.10,453.91 484.25,453.91 485.40,453.91 486.55,453.91 487.70,453.91 488.85,453.91 490.00,453.91" stroke="#5b2468" stroke-width="0.9" fill="none" stroke-linejoin="round" />
<line x1="470.00" y1="453.00" x2="470.00" y2="463.00" stroke="#5b2468" stroke-width="0.75" />
<line x1="468.50" y1="453.00" x2="471.50" y2="453.00" stroke="#5b2468" stroke-width="0.75" />
<line x1="468.50" y1="463.00" x2="471.50" y2="463.00" stroke="#5b2468" stroke-width="0.75" />
<line x1="479.90" y1="449.30" x2="479.90" y2="453.30" stroke="#5b2468" stroke-width="0.75" />
<line x1="478.40" y1="449.30" x2="481.40" y2="449.30" stroke="#5b2468" stroke-width="0.75" />
<line x1="478.40" y1="453.30" x2="481.40" y2="453.30" stroke="#5b2468" stroke-width="0.75" />
<circle cx="398.00" cy="453.50" r="2.55" fill="#5b2468"/>
<circle cx="408.40" cy="453.80" r="2.55" fill="#5b2468"/>
<circle cx="418.10" cy="453.60" r="2.55" fill="#5b2468"/>
<circle cx="428.70" cy="453.90" r="2.55" fill="#5b2468"/>
<circle cx="438.70" cy="453.60" r="2.55" fill="#5b2468"/>
<circle cx="449.20" cy="452.80" r="2.55" fill="#5b2468"/>
<circle cx="459.40" cy="453.80" r="2.55" fill="#5b2468"/>
<circle cx="470.00" cy="458.00" r="2.55" fill="#5b2468"/>
<circle cx="479.90" cy="451.30" r="2.55" fill="#5b2468"/>
<circle cx="489.40" cy="458.00" r="2.55" fill="#5b2468"/>
<polyline points="398.00,453.06 399.15,453.06 400.30,453.05 401.45,453.05 402.60,453.05 403.75,453.05 404.90,453.05 406.05,453.05 407.20,453.05 408.35,453.05 409.50,453.05 410.65,453.05 411.80,453.05 412.95,453.04 414.10,453.04 415.25,453.04 416.40,453.03 417.55,453.03 418.70,453.03 419.85,453.02 421.00,453.01 422.15,453.01 423.30,453.00 424.45,452.99 425.60,452.98 426.75,452.96 427.90,452.95 429.05,452.93 430.20,452.90 431.35,452.88 432.50,452.85 433.65,452.81 434.80,452.77 435.95,452.72 437.10,452.66 438.25,452.59 439.40,452.50 440.55,452.41 441.70,452.30 442.85,452.16 444.00,452.01 445.15,451.83 446.30,451.62 447.45,451.37 448.60,451.09 449.75,450.75 450.90,450.36 452.05,449.91 453.20,449.39 454.35,448.78 455.50,448.08 456.65,447.27 457.80,446.35 458.95,445.29 460.10,444.09 461.25,442.73 462.40,441.19 463.55,439.48 464.70,437.58 465.85,435.48 467.00,433.19 468.15,430.71 469.30,428.05 470.45,425.24 471.60,422.29 472.75,419.24 473.90,416.13 475.05,412.98 476.20,409.86 477.35,406.78 478.50,403.80 479.65,400.94 480.80,398.23 481.95,395.70 483.10,393.34 484.25,391.19 485.40,389.22 486.55,387.45 487.70,385.86 488.85,384.45 490.00,383.20" stroke="#1d4b87" stroke-width="0.9" fill="none" stroke-linejoin="round" />
<line x1="398.00" y1="446.00" x2="398.00" y2="458.00" stroke="#1d4b87" stroke-width="0.75" />
<line x1="396.50" y1="446.00" x2="399.50" y2="446.00" stroke="#1d4b87" stroke-width="0.75" />
<line x1="396.50" y1="458.00" x2="399.50" y2="458.00" stroke="#1d4b87" stroke-width="0.75" />
<line x1="408.40" y1="448.00" x2="408.40" y2="458.00" stroke="#1d4b87" stroke-width="0.75" />
<line x1="406.90" y1="448.00" x2="409.90" y2="448.00" stroke="#1d4b87" stroke-width="0.75" />
<line x1="406.90" y1="458.00" x2="409.90" y2="458.00" stroke="#1d4b87" stroke-width="0.75" />
<line x1="428.70" y1="449.80" x2="428.70" y2="457.80" stroke="#1d4b87" stroke-width="0.75" />
<line x1="427.20" y1="449.80" x2="430.20" y2="449.80" stroke="#1d4b87" stroke-width="0.75" />
<line x1="427.20" y1="457.80" x2="430.20" y2="457.80" stroke="#1d4b87" stroke-width="0.75" />
<polygon points="398.00,448.80 401.20,452.00 398.00,455.20 394.80,452.00" fill="#1d4b87"/>
<polygon points="408.40,449.80 411.60,453.00 408.40,456.20 405.20,453.00" fill="#1d4b87"/>
<polygon points="418.10,449.60 421.30,452.80 418.10,456.00 414.90,452.80" fill="#1d4b87"/>
<polygon points="428.70,450.60 431.90,453.80 428.70,457.00 425.50,453.80" fill="#1d4b87"/>
<polygon points="438.70,449.60 441.90,452.80 438.70,456.00 435.50,452.80" fill="#1d4b87"/>
<polygon points="449.20,446.40 452.40,449.60 449.20,452.80 446.00,449.60" fill="#1d4b87"/>
<polygon points="459.40,438.00 462.60,441.20 459.40,444.40 456.20,441.20" fill="#1d4b87"/>
<polygon points="469.70,425.60 472.90,428.80 469.70,432.00 466.50,428.80" fill="#1d4b87"/>
<polygon points="479.50,399.50 482.70,402.70 479.50,405.90 476.30,402.70" fill="#1d4b87"/>
<polygon points="490.00,381.30 493.20,384.50 490.00,387.70 486.80,384.50" fill="#1d4b87"/>
<line x1="392.00" y1="409.30" x2="439.30" y2="409.30" stroke="#111" stroke-width="0.9" />
<polygon points="389.00,409.3 393.20,407.3 393.20,411.3" fill="#111"/>
<polygon points="442.30,409.3 438.10,407.3 438.10,411.3" fill="#111"/>
<text x="416" y="406.1" font-size="6.4" fill="#222" text-anchor="middle" stroke="#222" stroke-width="0.2">325 X</text>
<line x1="328.70" y1="370.60" x2="336.70" y2="370.60" stroke="#dc1473" stroke-width="0.9" />
<ellipse cx="332.7" cy="370.6" rx="1.5" ry="1.3" fill="#dc1473"/>
<text x="340.8" y="372.90000000000003" font-size="6.5" text-anchor="start" fill="#333" font-weight="normal"  stroke="#333" stroke-width="0.2">BCL2</text>
<line x1="328.70" y1="379.00" x2="336.70" y2="379.00" stroke="#f0941c" stroke-width="0.9" />
<ellipse cx="332.7" cy="379.0" rx="1.8" ry="1.4" fill="#f0941c"/>
<text x="340.8" y="381.3" font-size="6.5" text-anchor="start" fill="#333" font-weight="normal"  stroke="#333" stroke-width="0.2">BCL-xL</text>
<line x1="328.70" y1="387.90" x2="336.70" y2="387.90" stroke="#56707e" stroke-width="0.9" />
<polygon points="332.7,386.29999999999995 334.2,387.9 332.7,389.5 331.2,387.9" fill="#1c3550"/>
<text x="340.8" y="390.2" font-size="6.5" text-anchor="start" fill="#333" font-weight="normal"  stroke="#333" stroke-width="0.2">BCL-W</text>
<line x1="328.70" y1="396.50" x2="336.70" y2="396.50" stroke="#5b2468" stroke-width="0.9" />
<ellipse cx="332.7" cy="396.5" rx="1.5" ry="1.3" fill="#5b2468"/>
<text x="340.8" y="398.8" font-size="6.5" text-anchor="start" fill="#333" font-weight="normal"  stroke="#333" stroke-width="0.2">MCL-1</text>
<line x1="328.70" y1="404.90" x2="336.70" y2="404.90" stroke="#1e6b5c" stroke-width="0.9" />
<ellipse cx="332.7" cy="404.9" rx="1.8" ry="1.4" fill="#1e6b5c"/>
<text x="340.8" y="407.2" font-size="6.5" text-anchor="start" fill="#333" font-weight="normal"  stroke="#333" stroke-width="0.2">BCL2A1</text>
<text x="146.2" y="545" font-size="9.1" fill="#2c2c2c" stroke="#2c2c2c" stroke-width="0.2">IC<tspan font-size="6.3" dy="2">50</tspan><tspan dy="-2"> of sonrotoclax and venetoclax for different Bcl-2 members</tspan></text>
<rect x="32" y="551.5" width="480.3" height="17.7" fill="#deecd5"/>
<line x1="31.50" y1="551.50" x2="512.80" y2="551.50" stroke="#5e5e5e" stroke-width="1.0" />
<line x1="31.50" y1="569.20" x2="512.80" y2="569.20" stroke="#5e5e5e" stroke-width="1.0" />
<line x1="31.50" y1="588.20" x2="512.80" y2="588.20" stroke="#5e5e5e" stroke-width="1.0" />
<line x1="31.50" y1="607.20" x2="512.80" y2="607.20" stroke="#5e5e5e" stroke-width="1.0" />
<line x1="32.00" y1="551.50" x2="32.00" y2="607.20" stroke="#5e5e5e" stroke-width="1.0" />
<line x1="112.00" y1="551.50" x2="112.00" y2="607.20" stroke="#5e5e5e" stroke-width="1.0" />
<line x1="191.80" y1="551.50" x2="191.80" y2="607.20" stroke="#5e5e5e" stroke-width="1.0" />
<line x1="272.30" y1="551.50" x2="272.30" y2="607.20" stroke="#5e5e5e" stroke-width="1.0" />
<line x1="351.80" y1="551.50" x2="351.80" y2="607.20" stroke="#5e5e5e" stroke-width="1.0" />
<line x1="432.40" y1="551.50" x2="432.40" y2="607.20" stroke="#5e5e5e" stroke-width="1.0" />
<line x1="512.30" y1="551.50" x2="512.30" y2="607.20" stroke="#5e5e5e" stroke-width="1.0" />
<text x="72.0" y="562.7" font-size="6.4" text-anchor="middle" fill="#4c5a44" font-weight="normal"  stroke="#4c5a44" stroke-width="0.2">Protein</text>
<text x="151.9" y="562.7" font-size="6.4" text-anchor="middle" fill="#4c5a44" font-weight="normal"  stroke="#4c5a44" stroke-width="0.2">BCL2</text>
<text x="232.05" y="562.7" font-size="6.4" text-anchor="middle" fill="#4c5a44" font-weight="normal"  stroke="#4c5a44" stroke-width="0.2">BCL-xL</text>
<text x="312.05" y="562.7" font-size="6.4" text-anchor="middle" fill="#4c5a44" font-weight="normal"  stroke="#4c5a44" stroke-width="0.2">BCL-W</text>
<text x="392.1" y="562.7" font-size="6.4" text-anchor="middle" fill="#4c5a44" font-weight="normal"  stroke="#4c5a44" stroke-width="0.2">MCL1</text>
<text x="472.34999999999997" y="562.7" font-size="6.4" text-anchor="middle" fill="#4c5a44" font-weight="normal"  stroke="#4c5a44" stroke-width="0.2">BCL2A1</text>
<text x="151.9" y="581.0" font-size="6.6" text-anchor="middle" fill="#333" font-weight="normal"  stroke="#333" stroke-width="0.2">0.014 ± 0.0021</text>
<text x="232.05" y="581.0" font-size="6.6" text-anchor="middle" fill="#333" font-weight="normal"  stroke="#333" stroke-width="0.2">28 ± 3.6</text>
<text x="312.05" y="581.0" font-size="6.6" text-anchor="middle" fill="#333" font-weight="normal"  stroke="#333" stroke-width="0.2">1803 ± 83</text>
<text x="392.1" y="581.0" font-size="6.6" text-anchor="middle" fill="#333" font-weight="normal"  stroke="#333" stroke-width="0.2">&gt;10000</text>
<text x="472.34999999999997" y="581.0" font-size="6.6" text-anchor="middle" fill="#333" font-weight="normal"  stroke="#333" stroke-width="0.2">&gt;10000</text>
<text x="151.9" y="599.8" font-size="6.6" text-anchor="middle" fill="#333" font-weight="normal"  stroke="#333" stroke-width="0.2">0.20 ± 0.015</text>
<text x="232.05" y="599.8" font-size="6.6" text-anchor="middle" fill="#333" font-weight="normal"  stroke="#333" stroke-width="0.2">65 ± 9.1</text>
<text x="312.05" y="599.8" font-size="6.6" text-anchor="middle" fill="#333" font-weight="normal"  stroke="#333" stroke-width="0.2">2730 ± 250</text>
<text x="392.1" y="599.8" font-size="6.6" text-anchor="middle" fill="#333" font-weight="normal"  stroke="#333" stroke-width="0.2">&gt;10000</text>
<text x="472.34999999999997" y="599.8" font-size="6.6" text-anchor="middle" fill="#333" font-weight="normal"  stroke="#333" stroke-width="0.2">&gt;10000</text>
<text x="35.9" y="581.0" font-size="6.6" fill="#333" textLength="71.9" lengthAdjust="spacingAndGlyphs" stroke="#333" stroke-width="0.2">IC<tspan font-size="4.2" dy="1.5">50</tspan><tspan dy="-1.5"> (nM) of sonrotoclax</tspan></text>
<text x="38.2" y="599.8" font-size="6.6" fill="#333" textLength="67.6" lengthAdjust="spacingAndGlyphs" stroke="#333" stroke-width="0.2">IC<tspan font-size="4.2" dy="1.5">50</tspan><tspan dy="-1.5"> (nM) of venetoclax</tspan></text>
<rect x="0.5" y="0.5" width="519" height="613" fill="none" stroke="#555" stroke-width="1"/>
</svg></body></html>
